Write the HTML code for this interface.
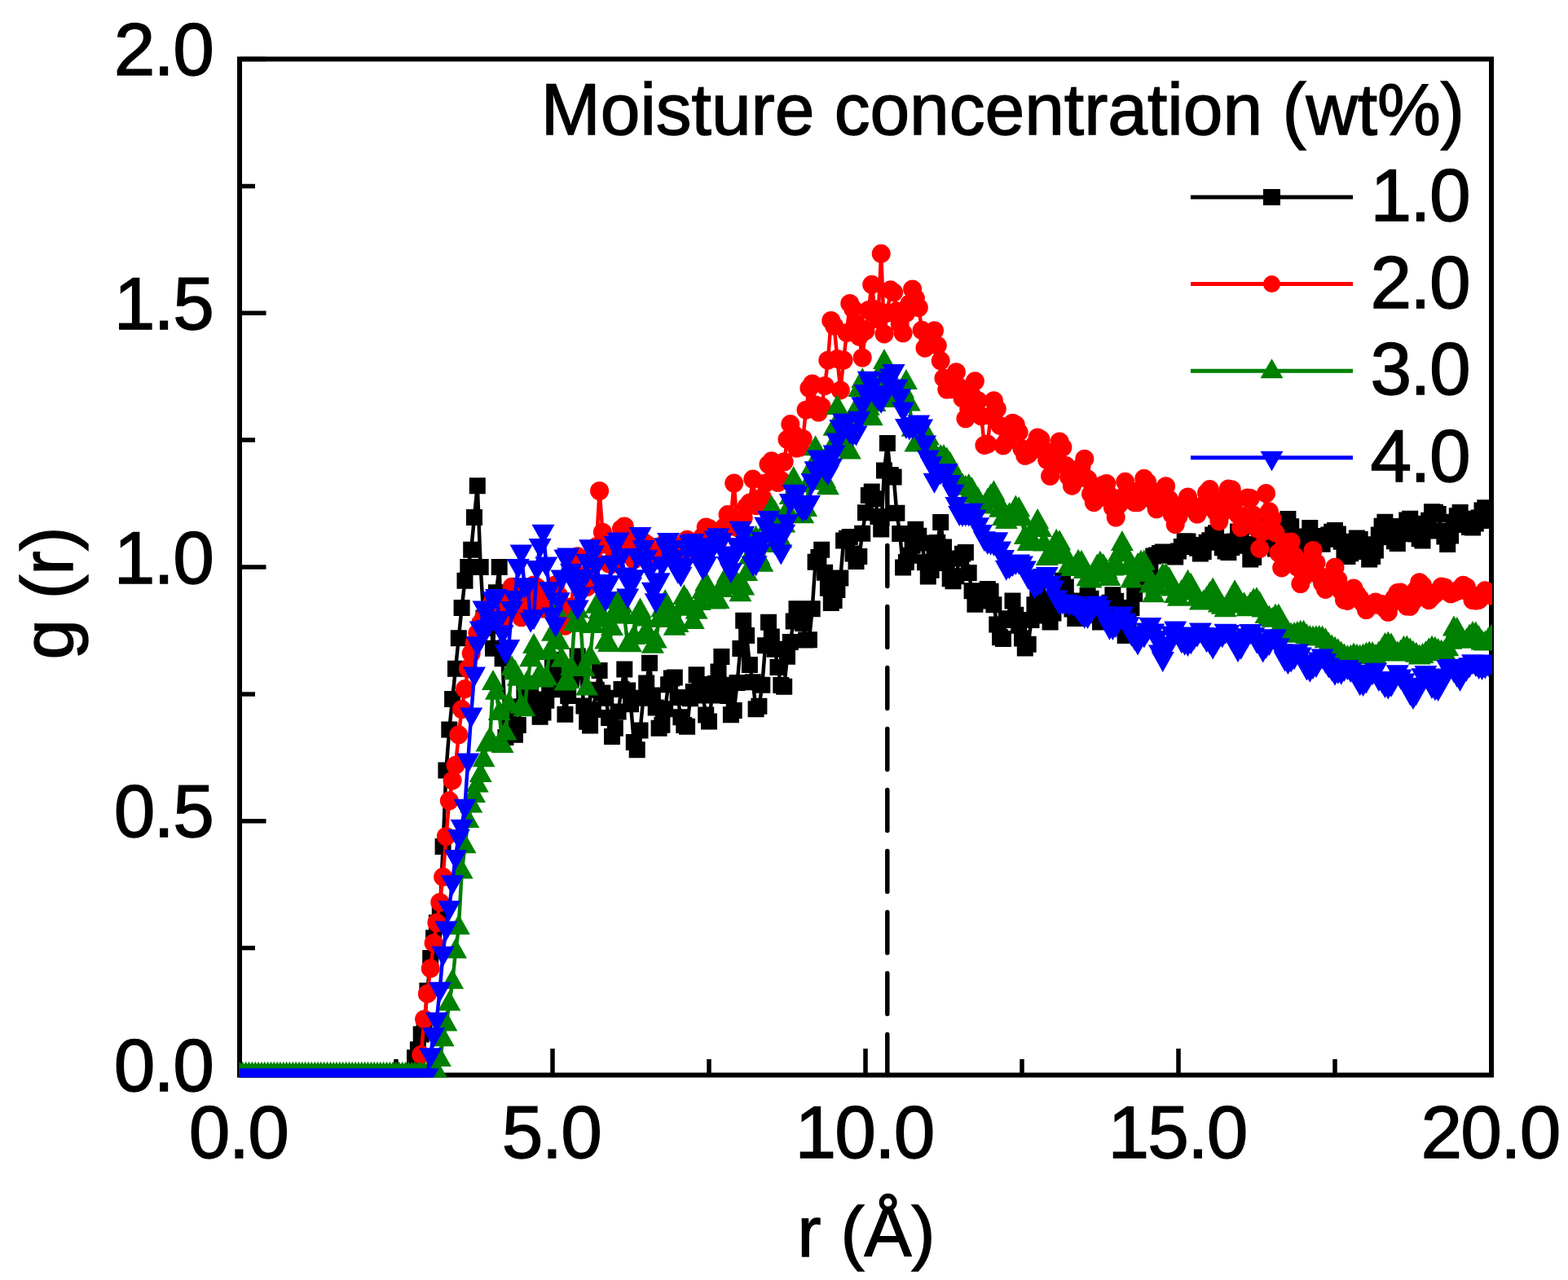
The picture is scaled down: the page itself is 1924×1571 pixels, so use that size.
<!DOCTYPE html>
<html><head><meta charset="utf-8"><title>g(r) plot</title>
<style>html,body{margin:0;padding:0;background:#fff;}svg{display:block;}</style></head>
<body><svg width="1924" height="1571" viewBox="0 0 1924 1571">
<rect width="1924" height="1571" fill="#fff"/>
<defs><clipPath id="c"><rect x="293.5" y="60" width="1537.5" height="1262.5"/></clipPath></defs>
<path d="M1088.8 1319.5V1269.5M1088.8 1244.5V1194.5M1088.8 1169.5V1119.5M1088.8 1094.5V1044.5M1088.8 1019.5V969.5M1088.8 944.5V894.5M1088.8 869.5V819.5M1088.8 794.5V744.5M1088.8 719.5V669.5M1088.8 644.5V594.5M1088.8 569.5V560" stroke="#000" stroke-width="5.5" fill="none" stroke-linecap="round"/>
<rect x="294" y="72.5" width="1536" height="1247" fill="none" stroke="#000" stroke-width="6"/>
<path d="M294 1319.5V1287M486 1319.5V1300M678 1319.5V1287M870 1319.5V1300M1062 1319.5V1287M1254 1319.5V1300M1446 1319.5V1287M1638 1319.5V1300M1830 1319.5V1287M294 1319.5H326.5M294 1163.6H313M294 1007.8H326.5M294 851.9H313M294 696H326.5M294 540.1H313M294 384.2H326.5M294 228.4H313M294 72.5H326.5" stroke="#000" stroke-width="5.5" fill="none"/>
<g clip-path="url(#c)">
<path d="M294,1319.5 297.8,1319.5 301.7,1319.5 305.5,1319.5 309.4,1319.5 313.2,1319.5 317,1319.5 320.9,1319.5 324.7,1319.5 328.6,1319.5 332.4,1319.5 336.2,1319.5 340.1,1319.5 343.9,1319.5 347.8,1319.5 351.6,1319.5 355.4,1319.5 359.3,1319.5 363.1,1319.5 367,1319.5 370.8,1319.5 374.6,1319.5 378.5,1319.5 382.3,1319.5 386.2,1319.5 390,1319.5 393.8,1319.5 397.7,1319.5 401.5,1319.5 405.4,1319.5 409.2,1319.5 413,1319.5 416.9,1319.5 420.7,1319.5 424.6,1319.5 428.4,1319.5 432.2,1319.5 436.1,1319.5 439.9,1319.5 443.8,1319.5 447.6,1319.5 451.4,1319.5 455.3,1319.5 459.1,1319.5 463,1319.5 466.8,1319.5 470.6,1319.5 474.5,1319.5 478.3,1319.5 482.2,1319.5 486,1319.5 489.8,1319.5 493.7,1319.5 497.5,1319.5 501.4,1319.5 505.2,1319.5 509,1298.3 512.9,1288.3 516.7,1269.6 520.6,1257.2 524.4,1216 528.2,1176.1 532.1,1151.2 535.9,1132.5 539.8,1120 543.6,1038.9 547.4,945.4 551.3,895.5 555.1,858.1 559,820.7 562.8,783.3 566.6,745.9 570.5,712.8 574.3,696 578.2,674.8 582,634.9 585.8,596.2 589.7,696 593.5,758.4 597.4,770.8 601.2,745.9 605,795.8 608.9,727.2 612.7,696 616.6,808.2 620.4,904.9 624.2,883 628.1,892.9 631.9,901.8 635.8,890.1 639.6,867.2 643.4,850.7 647.3,839 651.1,845.5 655,858.4 658.8,865.7 662.6,879.8 666.5,874.6 670.3,859.8 674.2,839.8 678,810 681.8,819.2 685.7,828.7 689.5,846.2 693.4,876.8 697.2,854.1 701,833.2 704.9,822.8 708.7,805.5 712.6,824.6 716.4,866.4 720.2,885.7 724.1,890.4 727.9,871 731.8,846.7 735.6,823 739.4,850.4 743.3,856.7 747.1,881.1 751,904.1 754.8,893.8 758.6,873.4 762.5,846 766.3,821.5 770.2,847.4 774,864.2 777.8,910.9 781.7,920.3 785.5,896.4 789.4,856.7 793.2,838.6 797,813.8 800.9,853.6 804.7,868.6 808.6,893.8 812.4,889.7 816.2,870.2 820.1,840.3 823.9,832.6 827.8,831.5 831.6,856 835.4,880.2 839.3,890.1 843.1,891.7 847,857.3 850.8,848.9 854.6,828.3 858.5,840 862.3,853.4 866.2,877.5 870,885.6 873.8,853.6 877.7,839.1 881.5,824.6 885.4,806 889.2,840.7 893,854 896.9,877.2 900.7,872 904.6,838.1 908.4,796.1 912.2,761.7 916.1,780 919.9,815.9 923.8,837.2 927.6,870.2 931.4,866.7 935.3,840.8 939.1,792.2 943,763.8 946.8,781.6 950.6,796.7 954.5,819.1 958.3,841 962.2,842.8 966,805.8 969.8,788 973.7,762.5 977.5,747.2 981.4,750.5 985.2,765.1 989,785.4 992.9,785.3 996.7,747.2 1000.6,689.7 1004.4,683.9 1008.2,674.8 1012.1,702.7 1015.9,721.7 1019.8,740 1023.6,736.9 1027.4,723.9 1031.3,709.6 1035.1,663.4 1039,660.8 1042.8,658.9 1046.6,679.6 1050.5,688.9 1054.3,682.9 1058.2,654.7 1062,629.2 1065.8,607.9 1069.7,603.4 1073.5,612.3 1077.4,634.1 1081.2,649.6 1085,577.5 1088.9,543.9 1092.7,583 1096.6,585.6 1100.4,629.7 1104.2,655.1 1108.1,696.5 1111.9,690 1115.8,681.8 1119.6,669.8 1123.4,649.7 1127.3,657.8 1131.1,666.4 1135,690.3 1138.8,707.5 1142.6,699.7 1146.5,681.6 1150.3,665.9 1154.2,641 1158,671.5 1161.8,691 1165.7,710.2 1169.5,713.2 1173.4,707.3 1177.2,685.4 1181,679.7 1184.9,678.1 1188.7,703 1192.6,725.2 1196.4,741.7 1200.2,737.5 1204.1,735.6 1207.9,734 1211.8,723 1215.6,725.8 1219.4,742.2 1223.3,766.5 1227.1,782.3 1231,784 1234.8,761.1 1238.6,759.2 1242.5,737.4 1246.3,754.8 1250.2,767.7 1254,783.6 1257.8,795.4 1261.7,790.7 1265.5,761.1 1269.4,742.3 1273.2,722.8 1277,735.7 1280.9,744.7 1284.7,755.4 1288.6,763.4 1292.4,752.4 1296.2,739.6 1300.1,727.9 1303.9,712.8 1307.8,720.5 1311.6,737.4 1315.4,747.5 1319.3,758.9 1323.1,750.5 1327,743.3 1330.8,737.5 1334.6,730.8 1338.5,734.7 1342.3,748.1 1346.2,755.1 1350,763.5 1353.8,757.4 1357.7,743.6 1361.5,739.8 1365.4,730.3 1369.2,737.7 1373,757.8 1376.9,766.4 1380.7,779.9 1384.6,761.7 1388.4,746.1 1392.2,728.7 1396.1,705.2 1399.9,708.2 1403.8,707.2 1407.6,702.2 1411.4,696.6 1415.3,682.4 1419.1,681.6 1423,678.9 1426.8,677.6 1430.6,677.6 1434.5,680.4 1438.3,681.8 1442.2,683.5 1446,676.4 1449.8,670.9 1453.7,664.2 1457.5,664.4 1461.4,668.9 1465.2,669.8 1469,672.7 1472.9,679.6 1476.7,677 1480.6,665.8 1484.4,663.2 1488.2,656.4 1492.1,654.2 1495.9,665 1499.8,672.3 1503.6,676.5 1507.4,678 1511.3,671.9 1515.1,664.6 1519,652.5 1522.8,653.8 1526.6,669.7 1530.5,669.5 1534.3,686.4 1538.2,683.9 1542,668.1 1545.8,651.4 1549.7,639.2 1553.5,646.9 1557.4,662.4 1561.2,667.9 1565,673.5 1568.9,669.4 1572.7,660.7 1576.6,648.3 1580.4,637.1 1584.2,646.3 1588.1,667.2 1591.9,674.3 1595.8,669.2 1599.6,662.8 1603.4,658.6 1607.3,648 1611.1,658.1 1615,662.3 1618.8,666.9 1622.6,667.7 1626.5,661.7 1630.3,656.5 1634.2,652.8 1638,650.9 1641.8,655.5 1645.7,664.8 1649.5,680.5 1653.4,683.1 1657.2,679.2 1661,669.9 1664.9,660.4 1668.7,662.1 1672.6,668.2 1676.4,677 1680.2,686.5 1684.1,683.1 1687.9,675.5 1691.8,656.6 1695.6,645.7 1699.4,640.8 1703.3,646.1 1707.1,659.2 1711,664.3 1714.8,667.1 1718.6,655.3 1722.5,646 1726.3,638.5 1730.2,636.7 1734,642.8 1737.8,655.6 1741.7,661.3 1745.5,663.6 1749.4,651.4 1753.2,638.7 1757,628.3 1760.9,628.8 1764.7,630.9 1768.6,651.6 1772.4,658.4 1776.2,667.9 1780.1,657.6 1783.9,640.7 1787.8,633.3 1791.6,629.1 1795.4,636.8 1799.3,643.9 1803.1,647 1807,647.4 1810.8,642.5 1814.6,635.4 1818.5,626.5 1822.3,623.2 1826.2,624.8 1830,639" fill="none" stroke="#000" stroke-width="4.5" stroke-linejoin="round"/>
<path d="M284 1309.5h20v20h-20zM287.8 1309.5h20v20h-20zM291.7 1309.5h20v20h-20zM295.5 1309.5h20v20h-20zM299.4 1309.5h20v20h-20zM303.2 1309.5h20v20h-20zM307 1309.5h20v20h-20zM310.9 1309.5h20v20h-20zM314.7 1309.5h20v20h-20zM318.6 1309.5h20v20h-20zM322.4 1309.5h20v20h-20zM326.2 1309.5h20v20h-20zM330.1 1309.5h20v20h-20zM333.9 1309.5h20v20h-20zM337.8 1309.5h20v20h-20zM341.6 1309.5h20v20h-20zM345.4 1309.5h20v20h-20zM349.3 1309.5h20v20h-20zM353.1 1309.5h20v20h-20zM357 1309.5h20v20h-20zM360.8 1309.5h20v20h-20zM364.6 1309.5h20v20h-20zM368.5 1309.5h20v20h-20zM372.3 1309.5h20v20h-20zM376.2 1309.5h20v20h-20zM380 1309.5h20v20h-20zM383.8 1309.5h20v20h-20zM387.7 1309.5h20v20h-20zM391.5 1309.5h20v20h-20zM395.4 1309.5h20v20h-20zM399.2 1309.5h20v20h-20zM403 1309.5h20v20h-20zM406.9 1309.5h20v20h-20zM410.7 1309.5h20v20h-20zM414.6 1309.5h20v20h-20zM418.4 1309.5h20v20h-20zM422.2 1309.5h20v20h-20zM426.1 1309.5h20v20h-20zM429.9 1309.5h20v20h-20zM433.8 1309.5h20v20h-20zM437.6 1309.5h20v20h-20zM441.4 1309.5h20v20h-20zM445.3 1309.5h20v20h-20zM449.1 1309.5h20v20h-20zM453 1309.5h20v20h-20zM456.8 1309.5h20v20h-20zM460.6 1309.5h20v20h-20zM464.5 1309.5h20v20h-20zM468.3 1309.5h20v20h-20zM472.2 1309.5h20v20h-20zM476 1309.5h20v20h-20zM479.8 1309.5h20v20h-20zM483.7 1309.5h20v20h-20zM487.5 1309.5h20v20h-20zM491.4 1309.5h20v20h-20zM495.2 1309.5h20v20h-20zM499 1288.3h20v20h-20zM502.9 1278.3h20v20h-20zM506.7 1259.6h20v20h-20zM510.6 1247.2h20v20h-20zM514.4 1206h20v20h-20zM518.2 1166.1h20v20h-20zM522.1 1141.2h20v20h-20zM525.9 1122.5h20v20h-20zM529.8 1110h20v20h-20zM533.6 1028.9h20v20h-20zM537.4 935.4h20v20h-20zM541.3 885.5h20v20h-20zM545.1 848.1h20v20h-20zM549 810.7h20v20h-20zM552.8 773.3h20v20h-20zM556.6 735.9h20v20h-20zM560.5 702.8h20v20h-20zM564.3 686h20v20h-20zM568.2 664.8h20v20h-20zM572 624.9h20v20h-20zM575.8 586.2h20v20h-20zM579.7 686h20v20h-20zM583.5 748.4h20v20h-20zM587.4 760.8h20v20h-20zM591.2 735.9h20v20h-20zM595 785.8h20v20h-20zM598.9 717.2h20v20h-20zM602.7 686h20v20h-20zM606.6 798.2h20v20h-20zM610.4 894.9h20v20h-20zM614.2 873h20v20h-20zM618.1 882.9h20v20h-20zM621.9 891.8h20v20h-20zM625.8 880.1h20v20h-20zM629.6 857.2h20v20h-20zM633.4 840.7h20v20h-20zM637.3 829h20v20h-20zM641.1 835.5h20v20h-20zM645 848.4h20v20h-20zM648.8 855.7h20v20h-20zM652.6 869.8h20v20h-20zM656.5 864.6h20v20h-20zM660.3 849.8h20v20h-20zM664.2 829.8h20v20h-20zM668 800h20v20h-20zM671.8 809.2h20v20h-20zM675.7 818.7h20v20h-20zM679.5 836.2h20v20h-20zM683.4 866.8h20v20h-20zM687.2 844.1h20v20h-20zM691 823.2h20v20h-20zM694.9 812.8h20v20h-20zM698.7 795.5h20v20h-20zM702.6 814.6h20v20h-20zM706.4 856.4h20v20h-20zM710.2 875.7h20v20h-20zM714.1 880.4h20v20h-20zM717.9 861h20v20h-20zM721.8 836.7h20v20h-20zM725.6 813h20v20h-20zM729.4 840.4h20v20h-20zM733.3 846.7h20v20h-20zM737.1 871.1h20v20h-20zM741 894.1h20v20h-20zM744.8 883.8h20v20h-20zM748.6 863.4h20v20h-20zM752.5 836h20v20h-20zM756.3 811.5h20v20h-20zM760.2 837.4h20v20h-20zM764 854.2h20v20h-20zM767.8 900.9h20v20h-20zM771.7 910.3h20v20h-20zM775.5 886.4h20v20h-20zM779.4 846.7h20v20h-20zM783.2 828.6h20v20h-20zM787 803.8h20v20h-20zM790.9 843.6h20v20h-20zM794.7 858.6h20v20h-20zM798.6 883.8h20v20h-20zM802.4 879.7h20v20h-20zM806.2 860.2h20v20h-20zM810.1 830.3h20v20h-20zM813.9 822.6h20v20h-20zM817.8 821.5h20v20h-20zM821.6 846h20v20h-20zM825.4 870.2h20v20h-20zM829.3 880.1h20v20h-20zM833.1 881.7h20v20h-20zM837 847.3h20v20h-20zM840.8 838.9h20v20h-20zM844.6 818.3h20v20h-20zM848.5 830h20v20h-20zM852.3 843.4h20v20h-20zM856.2 867.5h20v20h-20zM860 875.6h20v20h-20zM863.8 843.6h20v20h-20zM867.7 829.1h20v20h-20zM871.5 814.6h20v20h-20zM875.4 796h20v20h-20zM879.2 830.7h20v20h-20zM883 844h20v20h-20zM886.9 867.2h20v20h-20zM890.7 862h20v20h-20zM894.6 828.1h20v20h-20zM898.4 786.1h20v20h-20zM902.2 751.7h20v20h-20zM906.1 770h20v20h-20zM909.9 805.9h20v20h-20zM913.8 827.2h20v20h-20zM917.6 860.2h20v20h-20zM921.4 856.7h20v20h-20zM925.3 830.8h20v20h-20zM929.1 782.2h20v20h-20zM933 753.8h20v20h-20zM936.8 771.6h20v20h-20zM940.6 786.7h20v20h-20zM944.5 809.1h20v20h-20zM948.3 831h20v20h-20zM952.2 832.8h20v20h-20zM956 795.8h20v20h-20zM959.8 778h20v20h-20zM963.7 752.5h20v20h-20zM967.5 737.2h20v20h-20zM971.4 740.5h20v20h-20zM975.2 755.1h20v20h-20zM979 775.4h20v20h-20zM982.9 775.3h20v20h-20zM986.7 737.2h20v20h-20zM990.6 679.7h20v20h-20zM994.4 673.9h20v20h-20zM998.2 664.8h20v20h-20zM1002.1 692.7h20v20h-20zM1005.9 711.7h20v20h-20zM1009.8 730h20v20h-20zM1013.6 726.9h20v20h-20zM1017.4 713.9h20v20h-20zM1021.3 699.6h20v20h-20zM1025.1 653.4h20v20h-20zM1029 650.8h20v20h-20zM1032.8 648.9h20v20h-20zM1036.6 669.6h20v20h-20zM1040.5 678.9h20v20h-20zM1044.3 672.9h20v20h-20zM1048.2 644.7h20v20h-20zM1052 619.2h20v20h-20zM1055.8 597.9h20v20h-20zM1059.7 593.4h20v20h-20zM1063.5 602.3h20v20h-20zM1067.4 624.1h20v20h-20zM1071.2 639.6h20v20h-20zM1075 567.5h20v20h-20zM1078.9 533.9h20v20h-20zM1082.7 573h20v20h-20zM1086.6 575.6h20v20h-20zM1090.4 619.7h20v20h-20zM1094.2 645.1h20v20h-20zM1098.1 686.5h20v20h-20zM1101.9 680h20v20h-20zM1105.8 671.8h20v20h-20zM1109.6 659.8h20v20h-20zM1113.4 639.7h20v20h-20zM1117.3 647.8h20v20h-20zM1121.1 656.4h20v20h-20zM1125 680.3h20v20h-20zM1128.8 697.5h20v20h-20zM1132.6 689.7h20v20h-20zM1136.5 671.6h20v20h-20zM1140.3 655.9h20v20h-20zM1144.2 631h20v20h-20zM1148 661.5h20v20h-20zM1151.8 681h20v20h-20zM1155.7 700.2h20v20h-20zM1159.5 703.2h20v20h-20zM1163.4 697.3h20v20h-20zM1167.2 675.4h20v20h-20zM1171 669.7h20v20h-20zM1174.9 668.1h20v20h-20zM1178.7 693h20v20h-20zM1182.6 715.2h20v20h-20zM1186.4 731.7h20v20h-20zM1190.2 727.5h20v20h-20zM1194.1 725.6h20v20h-20zM1197.9 724h20v20h-20zM1201.8 713h20v20h-20zM1205.6 715.8h20v20h-20zM1209.4 732.2h20v20h-20zM1213.3 756.5h20v20h-20zM1217.1 772.3h20v20h-20zM1221 774h20v20h-20zM1224.8 751.1h20v20h-20zM1228.6 749.2h20v20h-20zM1232.5 727.4h20v20h-20zM1236.3 744.8h20v20h-20zM1240.2 757.7h20v20h-20zM1244 773.6h20v20h-20zM1247.8 785.4h20v20h-20zM1251.7 780.7h20v20h-20zM1255.5 751.1h20v20h-20zM1259.4 732.3h20v20h-20zM1263.2 712.8h20v20h-20zM1267 725.7h20v20h-20zM1270.9 734.7h20v20h-20zM1274.7 745.4h20v20h-20zM1278.6 753.4h20v20h-20zM1282.4 742.4h20v20h-20zM1286.2 729.6h20v20h-20zM1290.1 717.9h20v20h-20zM1293.9 702.8h20v20h-20zM1297.8 710.5h20v20h-20zM1301.6 727.4h20v20h-20zM1305.4 737.5h20v20h-20zM1309.3 748.9h20v20h-20zM1313.1 740.5h20v20h-20zM1317 733.3h20v20h-20zM1320.8 727.5h20v20h-20zM1324.6 720.8h20v20h-20zM1328.5 724.7h20v20h-20zM1332.3 738.1h20v20h-20zM1336.2 745.1h20v20h-20zM1340 753.5h20v20h-20zM1343.8 747.4h20v20h-20zM1347.7 733.6h20v20h-20zM1351.5 729.8h20v20h-20zM1355.4 720.3h20v20h-20zM1359.2 727.7h20v20h-20zM1363 747.8h20v20h-20zM1366.9 756.4h20v20h-20zM1370.7 769.9h20v20h-20zM1374.6 751.7h20v20h-20zM1378.4 736.1h20v20h-20zM1382.2 718.7h20v20h-20zM1386.1 695.2h20v20h-20zM1389.9 698.2h20v20h-20zM1393.8 697.2h20v20h-20zM1397.6 692.2h20v20h-20zM1401.4 686.6h20v20h-20zM1405.3 672.4h20v20h-20zM1409.1 671.6h20v20h-20zM1413 668.9h20v20h-20zM1416.8 667.6h20v20h-20zM1420.6 667.6h20v20h-20zM1424.5 670.4h20v20h-20zM1428.3 671.8h20v20h-20zM1432.2 673.5h20v20h-20zM1436 666.4h20v20h-20zM1439.8 660.9h20v20h-20zM1443.7 654.2h20v20h-20zM1447.5 654.4h20v20h-20zM1451.4 658.9h20v20h-20zM1455.2 659.8h20v20h-20zM1459 662.7h20v20h-20zM1462.9 669.6h20v20h-20zM1466.7 667h20v20h-20zM1470.6 655.8h20v20h-20zM1474.4 653.2h20v20h-20zM1478.2 646.4h20v20h-20zM1482.1 644.2h20v20h-20zM1485.9 655h20v20h-20zM1489.8 662.3h20v20h-20zM1493.6 666.5h20v20h-20zM1497.4 668h20v20h-20zM1501.3 661.9h20v20h-20zM1505.1 654.6h20v20h-20zM1509 642.5h20v20h-20zM1512.8 643.8h20v20h-20zM1516.6 659.7h20v20h-20zM1520.5 659.5h20v20h-20zM1524.3 676.4h20v20h-20zM1528.2 673.9h20v20h-20zM1532 658.1h20v20h-20zM1535.8 641.4h20v20h-20zM1539.7 629.2h20v20h-20zM1543.5 636.9h20v20h-20zM1547.4 652.4h20v20h-20zM1551.2 657.9h20v20h-20zM1555 663.5h20v20h-20zM1558.9 659.4h20v20h-20zM1562.7 650.7h20v20h-20zM1566.6 638.3h20v20h-20zM1570.4 627.1h20v20h-20zM1574.2 636.3h20v20h-20zM1578.1 657.2h20v20h-20zM1581.9 664.3h20v20h-20zM1585.8 659.2h20v20h-20zM1589.6 652.8h20v20h-20zM1593.4 648.6h20v20h-20zM1597.3 638h20v20h-20zM1601.1 648.1h20v20h-20zM1605 652.3h20v20h-20zM1608.8 656.9h20v20h-20zM1612.6 657.7h20v20h-20zM1616.5 651.7h20v20h-20zM1620.3 646.5h20v20h-20zM1624.2 642.8h20v20h-20zM1628 640.9h20v20h-20zM1631.8 645.5h20v20h-20zM1635.7 654.8h20v20h-20zM1639.5 670.5h20v20h-20zM1643.4 673.1h20v20h-20zM1647.2 669.2h20v20h-20zM1651 659.9h20v20h-20zM1654.9 650.4h20v20h-20zM1658.7 652.1h20v20h-20zM1662.6 658.2h20v20h-20zM1666.4 667h20v20h-20zM1670.2 676.5h20v20h-20zM1674.1 673.1h20v20h-20zM1677.9 665.5h20v20h-20zM1681.8 646.6h20v20h-20zM1685.6 635.7h20v20h-20zM1689.4 630.8h20v20h-20zM1693.3 636.1h20v20h-20zM1697.1 649.2h20v20h-20zM1701 654.3h20v20h-20zM1704.8 657.1h20v20h-20zM1708.6 645.3h20v20h-20zM1712.5 636h20v20h-20zM1716.3 628.5h20v20h-20zM1720.2 626.7h20v20h-20zM1724 632.8h20v20h-20zM1727.8 645.6h20v20h-20zM1731.7 651.3h20v20h-20zM1735.5 653.6h20v20h-20zM1739.4 641.4h20v20h-20zM1743.2 628.7h20v20h-20zM1747 618.3h20v20h-20zM1750.9 618.8h20v20h-20zM1754.7 620.9h20v20h-20zM1758.6 641.6h20v20h-20zM1762.4 648.4h20v20h-20zM1766.2 657.9h20v20h-20zM1770.1 647.6h20v20h-20zM1773.9 630.7h20v20h-20zM1777.8 623.3h20v20h-20zM1781.6 619.1h20v20h-20zM1785.4 626.8h20v20h-20zM1789.3 633.9h20v20h-20zM1793.1 637h20v20h-20zM1797 637.4h20v20h-20zM1800.8 632.5h20v20h-20zM1804.6 625.4h20v20h-20zM1808.5 616.5h20v20h-20zM1812.3 613.2h20v20h-20zM1816.2 614.8h20v20h-20zM1820 629h20v20h-20z" fill="#000"/>
<path d="M294,1319.5 297.8,1319.5 301.7,1319.5 305.5,1319.5 309.4,1319.5 313.2,1319.5 317,1319.5 320.9,1319.5 324.7,1319.5 328.6,1319.5 332.4,1319.5 336.2,1319.5 340.1,1319.5 343.9,1319.5 347.8,1319.5 351.6,1319.5 355.4,1319.5 359.3,1319.5 363.1,1319.5 367,1319.5 370.8,1319.5 374.6,1319.5 378.5,1319.5 382.3,1319.5 386.2,1319.5 390,1319.5 393.8,1319.5 397.7,1319.5 401.5,1319.5 405.4,1319.5 409.2,1319.5 413,1319.5 416.9,1319.5 420.7,1319.5 424.6,1319.5 428.4,1319.5 432.2,1319.5 436.1,1319.5 439.9,1319.5 443.8,1319.5 447.6,1319.5 451.4,1319.5 455.3,1319.5 459.1,1319.5 463,1319.5 466.8,1319.5 470.6,1319.5 474.5,1319.5 478.3,1319.5 482.2,1319.5 486,1319.5 489.8,1319.5 493.7,1319.5 497.5,1319.5 501.4,1319.5 505.2,1319.5 509,1319.5 512.9,1319.5 516.7,1294.6 520.6,1250.9 524.4,1219.7 528.2,1188.6 532.1,1157.4 535.9,1132.5 539.8,1107.5 543.6,1076.3 547.4,1026.5 551.3,982.8 555.1,957.9 559,939.2 562.8,901.8 566.6,870.6 570.5,845.6 574.3,820.7 578.2,802 582,789.5 585.8,777.1 589.7,764.6 593.5,758.4 597.4,755.6 601.2,744.7 605,736.4 608.9,740.4 612.7,752.9 616.6,758.9 620.4,743.8 624.2,735 628.1,720.3 631.9,727.8 635.8,739.9 639.6,757.8 643.4,745.8 647.3,738.5 651.1,727.4 655,718 658.8,720.7 662.6,735.9 666.5,747 670.3,745.4 674.2,731.8 678,727.4 681.8,717.8 685.7,731.1 689.5,748.2 693.4,768.2 697.2,759.3 701,744.7 704.9,705.1 708.7,682.8 712.6,706.2 716.4,719.4 720.2,720.7 724.1,710.7 727.9,684.8 731.8,670.8 735.6,602.5 739.4,653.2 743.3,668.1 747.1,691.9 751,692.4 754.8,677.4 758.6,662.2 762.5,648.9 766.3,645.9 770.2,662.1 774,682.3 777.8,686.8 781.7,681.3 785.5,674.9 789.4,665 793.2,667.7 797,674.5 800.9,683.1 804.7,687.3 808.6,677.2 812.4,673.7 816.2,666.1 820.1,673.1 823.9,678.4 827.8,684.4 831.6,680.3 835.4,671.4 839.3,667.5 843.1,662.2 847,668.4 850.8,672.5 854.6,676 858.5,669.6 862.3,658.5 866.2,647.1 870,648.4 873.8,655.4 877.7,661.5 881.5,663.7 885.4,656.2 889.2,646.4 893,631.6 896.9,634.6 900.7,593.1 904.6,647.5 908.4,648.2 912.2,636 916.1,621.7 919.9,617.1 923.8,588.1 927.6,620.6 931.4,618.3 935.3,610.2 939.1,593 943,570 946.8,565.8 950.6,575.7 954.5,592.3 958.3,589.4 962.2,566.8 966,539.3 969.8,520.6 973.7,532.7 977.5,550.1 981.4,549.1 985.2,538.5 989,503.2 992.9,476.4 996.7,470.9 1000.6,496.9 1004.4,506 1008.2,499.1 1012.1,473.5 1015.9,442.2 1019.8,393.4 1023.6,400 1027.4,440.4 1031.3,478.9 1035.1,442.1 1039,408.4 1042.8,372.4 1046.6,379 1050.5,396.9 1054.3,413.1 1058.2,439 1062,406 1065.8,380.5 1069.7,349.3 1073.5,379.8 1077.4,391.9 1081.2,311.3 1085,409.9 1088.9,384 1092.7,355.8 1096.6,358.8 1100.4,381.7 1104.2,397.7 1108.1,408.8 1111.9,384 1115.8,372.8 1119.6,355 1123.4,366.1 1127.3,377.5 1131.1,405.3 1135,427.2 1138.8,417.6 1142.6,412.1 1146.5,405.7 1150.3,424.1 1154.2,442.8 1158,464.2 1161.8,478.1 1165.7,477.8 1169.5,463.8 1173.4,456.7 1177.2,475.3 1181,488.9 1184.9,513.8 1188.7,502.3 1192.6,485.5 1196.4,467.8 1200.2,491.8 1204.1,510.9 1207.9,546.4 1211.8,545.1 1215.6,510.3 1219.4,491.7 1223.3,501.8 1227.1,522.4 1231,546.8 1234.8,541.8 1238.6,533.6 1242.5,519.2 1246.3,521.3 1250.2,530.6 1254,550.9 1257.8,559.3 1261.7,557.6 1265.5,553.7 1269.4,545.8 1273.2,537 1277,539.3 1280.9,552.4 1284.7,564.6 1288.6,584.3 1292.4,573 1296.2,558.4 1300.1,541.9 1303.9,549 1307.8,571.4 1311.6,585.3 1315.4,596.2 1319.3,589.7 1323.1,579.6 1327,573 1330.8,563.2 1334.6,587.9 1338.5,606.3 1342.3,616.6 1346.2,612.7 1350,607.6 1353.8,594.9 1357.7,593.4 1361.5,608.2 1365.4,622.9 1369.2,635 1373,619.2 1376.9,610.4 1380.7,591.3 1384.6,603.3 1388.4,608.8 1392.2,616.7 1396.1,616.7 1399.9,600.6 1403.8,587.3 1407.6,591.7 1411.4,604.3 1415.3,614.8 1419.1,624.8 1423,613.4 1426.8,601.2 1430.6,596.7 1434.5,612.8 1438.3,631.7 1442.2,643.7 1446,634.1 1449.8,626.1 1453.7,618 1457.5,609.9 1461.4,620 1465.2,623.2 1469,631.1 1472.9,624.7 1476.7,619.7 1480.6,604.8 1484.4,600.6 1488.2,615.8 1492.1,628.8 1495.9,639.8 1499.8,628.9 1503.6,610.1 1507.4,600 1511.3,600.7 1515.1,613.5 1519,631.5 1522.8,647.5 1526.6,636.2 1530.5,611 1534.3,611.5 1538.2,632.3 1542,648.6 1545.8,673.4 1549.7,652.6 1553.5,605.6 1557.4,627.8 1561.2,636.9 1565,653.8 1568.9,678.5 1572.7,696.9 1576.6,674 1580.4,665.4 1584.2,664.9 1588.1,682.1 1591.9,696.1 1595.8,716.6 1599.6,708.2 1603.4,691.8 1607.3,688.4 1611.1,675.5 1615,690.7 1618.8,706.6 1622.6,715.9 1626.5,723.4 1630.3,719.5 1634.2,705.6 1638,696.2 1641.8,711.4 1645.7,725.3 1649.5,736.3 1653.4,737.4 1657.2,729.8 1661,722.1 1664.9,729.2 1668.7,734.5 1672.6,740.5 1676.4,748.5 1680.2,743.8 1684.1,742.5 1687.9,739 1691.8,742.4 1695.6,741.4 1699.4,746.8 1703.3,751.3 1707.1,740.9 1711,733.9 1714.8,727.6 1718.6,727.1 1722.5,736.4 1726.3,744.1 1730.2,744.3 1734,738 1737.8,723.6 1741.7,714.7 1745.5,718.3 1749.4,725.4 1753.2,736.7 1757,732.6 1760.9,729.1 1764.7,725.3 1768.6,720.1 1772.4,720.7 1776.2,726.1 1780.1,728.8 1783.9,727.3 1787.8,725.5 1791.6,722.3 1795.4,718.2 1799.3,720.5 1803.1,727.8 1807,736.5 1810.8,737 1814.6,736.4 1818.5,729.5 1822.3,724.8 1826.2,728.3 1830,731.1" fill="none" stroke="#f00" stroke-width="4.5" stroke-linejoin="round"/>
<path d="M282.5 1319.5a11.5 11.5 0 1 0 23 0a11.5 11.5 0 1 0 -23 0zM286.3 1319.5a11.5 11.5 0 1 0 23 0a11.5 11.5 0 1 0 -23 0zM290.2 1319.5a11.5 11.5 0 1 0 23 0a11.5 11.5 0 1 0 -23 0zM294 1319.5a11.5 11.5 0 1 0 23 0a11.5 11.5 0 1 0 -23 0zM297.9 1319.5a11.5 11.5 0 1 0 23 0a11.5 11.5 0 1 0 -23 0zM301.7 1319.5a11.5 11.5 0 1 0 23 0a11.5 11.5 0 1 0 -23 0zM305.5 1319.5a11.5 11.5 0 1 0 23 0a11.5 11.5 0 1 0 -23 0zM309.4 1319.5a11.5 11.5 0 1 0 23 0a11.5 11.5 0 1 0 -23 0zM313.2 1319.5a11.5 11.5 0 1 0 23 0a11.5 11.5 0 1 0 -23 0zM317.1 1319.5a11.5 11.5 0 1 0 23 0a11.5 11.5 0 1 0 -23 0zM320.9 1319.5a11.5 11.5 0 1 0 23 0a11.5 11.5 0 1 0 -23 0zM324.7 1319.5a11.5 11.5 0 1 0 23 0a11.5 11.5 0 1 0 -23 0zM328.6 1319.5a11.5 11.5 0 1 0 23 0a11.5 11.5 0 1 0 -23 0zM332.4 1319.5a11.5 11.5 0 1 0 23 0a11.5 11.5 0 1 0 -23 0zM336.3 1319.5a11.5 11.5 0 1 0 23 0a11.5 11.5 0 1 0 -23 0zM340.1 1319.5a11.5 11.5 0 1 0 23 0a11.5 11.5 0 1 0 -23 0zM343.9 1319.5a11.5 11.5 0 1 0 23 0a11.5 11.5 0 1 0 -23 0zM347.8 1319.5a11.5 11.5 0 1 0 23 0a11.5 11.5 0 1 0 -23 0zM351.6 1319.5a11.5 11.5 0 1 0 23 0a11.5 11.5 0 1 0 -23 0zM355.5 1319.5a11.5 11.5 0 1 0 23 0a11.5 11.5 0 1 0 -23 0zM359.3 1319.5a11.5 11.5 0 1 0 23 0a11.5 11.5 0 1 0 -23 0zM363.1 1319.5a11.5 11.5 0 1 0 23 0a11.5 11.5 0 1 0 -23 0zM367 1319.5a11.5 11.5 0 1 0 23 0a11.5 11.5 0 1 0 -23 0zM370.8 1319.5a11.5 11.5 0 1 0 23 0a11.5 11.5 0 1 0 -23 0zM374.7 1319.5a11.5 11.5 0 1 0 23 0a11.5 11.5 0 1 0 -23 0zM378.5 1319.5a11.5 11.5 0 1 0 23 0a11.5 11.5 0 1 0 -23 0zM382.3 1319.5a11.5 11.5 0 1 0 23 0a11.5 11.5 0 1 0 -23 0zM386.2 1319.5a11.5 11.5 0 1 0 23 0a11.5 11.5 0 1 0 -23 0zM390 1319.5a11.5 11.5 0 1 0 23 0a11.5 11.5 0 1 0 -23 0zM393.9 1319.5a11.5 11.5 0 1 0 23 0a11.5 11.5 0 1 0 -23 0zM397.7 1319.5a11.5 11.5 0 1 0 23 0a11.5 11.5 0 1 0 -23 0zM401.5 1319.5a11.5 11.5 0 1 0 23 0a11.5 11.5 0 1 0 -23 0zM405.4 1319.5a11.5 11.5 0 1 0 23 0a11.5 11.5 0 1 0 -23 0zM409.2 1319.5a11.5 11.5 0 1 0 23 0a11.5 11.5 0 1 0 -23 0zM413.1 1319.5a11.5 11.5 0 1 0 23 0a11.5 11.5 0 1 0 -23 0zM416.9 1319.5a11.5 11.5 0 1 0 23 0a11.5 11.5 0 1 0 -23 0zM420.7 1319.5a11.5 11.5 0 1 0 23 0a11.5 11.5 0 1 0 -23 0zM424.6 1319.5a11.5 11.5 0 1 0 23 0a11.5 11.5 0 1 0 -23 0zM428.4 1319.5a11.5 11.5 0 1 0 23 0a11.5 11.5 0 1 0 -23 0zM432.3 1319.5a11.5 11.5 0 1 0 23 0a11.5 11.5 0 1 0 -23 0zM436.1 1319.5a11.5 11.5 0 1 0 23 0a11.5 11.5 0 1 0 -23 0zM439.9 1319.5a11.5 11.5 0 1 0 23 0a11.5 11.5 0 1 0 -23 0zM443.8 1319.5a11.5 11.5 0 1 0 23 0a11.5 11.5 0 1 0 -23 0zM447.6 1319.5a11.5 11.5 0 1 0 23 0a11.5 11.5 0 1 0 -23 0zM451.5 1319.5a11.5 11.5 0 1 0 23 0a11.5 11.5 0 1 0 -23 0zM455.3 1319.5a11.5 11.5 0 1 0 23 0a11.5 11.5 0 1 0 -23 0zM459.1 1319.5a11.5 11.5 0 1 0 23 0a11.5 11.5 0 1 0 -23 0zM463 1319.5a11.5 11.5 0 1 0 23 0a11.5 11.5 0 1 0 -23 0zM466.8 1319.5a11.5 11.5 0 1 0 23 0a11.5 11.5 0 1 0 -23 0zM470.7 1319.5a11.5 11.5 0 1 0 23 0a11.5 11.5 0 1 0 -23 0zM474.5 1319.5a11.5 11.5 0 1 0 23 0a11.5 11.5 0 1 0 -23 0zM478.3 1319.5a11.5 11.5 0 1 0 23 0a11.5 11.5 0 1 0 -23 0zM482.2 1319.5a11.5 11.5 0 1 0 23 0a11.5 11.5 0 1 0 -23 0zM486 1319.5a11.5 11.5 0 1 0 23 0a11.5 11.5 0 1 0 -23 0zM489.9 1319.5a11.5 11.5 0 1 0 23 0a11.5 11.5 0 1 0 -23 0zM493.7 1319.5a11.5 11.5 0 1 0 23 0a11.5 11.5 0 1 0 -23 0zM497.5 1319.5a11.5 11.5 0 1 0 23 0a11.5 11.5 0 1 0 -23 0zM501.4 1319.5a11.5 11.5 0 1 0 23 0a11.5 11.5 0 1 0 -23 0zM505.2 1294.6a11.5 11.5 0 1 0 23 0a11.5 11.5 0 1 0 -23 0zM509.1 1250.9a11.5 11.5 0 1 0 23 0a11.5 11.5 0 1 0 -23 0zM512.9 1219.7a11.5 11.5 0 1 0 23 0a11.5 11.5 0 1 0 -23 0zM516.7 1188.6a11.5 11.5 0 1 0 23 0a11.5 11.5 0 1 0 -23 0zM520.6 1157.4a11.5 11.5 0 1 0 23 0a11.5 11.5 0 1 0 -23 0zM524.4 1132.5a11.5 11.5 0 1 0 23 0a11.5 11.5 0 1 0 -23 0zM528.3 1107.5a11.5 11.5 0 1 0 23 0a11.5 11.5 0 1 0 -23 0zM532.1 1076.3a11.5 11.5 0 1 0 23 0a11.5 11.5 0 1 0 -23 0zM535.9 1026.5a11.5 11.5 0 1 0 23 0a11.5 11.5 0 1 0 -23 0zM539.8 982.8a11.5 11.5 0 1 0 23 0a11.5 11.5 0 1 0 -23 0zM543.6 957.9a11.5 11.5 0 1 0 23 0a11.5 11.5 0 1 0 -23 0zM547.5 939.2a11.5 11.5 0 1 0 23 0a11.5 11.5 0 1 0 -23 0zM551.3 901.8a11.5 11.5 0 1 0 23 0a11.5 11.5 0 1 0 -23 0zM555.1 870.6a11.5 11.5 0 1 0 23 0a11.5 11.5 0 1 0 -23 0zM559 845.6a11.5 11.5 0 1 0 23 0a11.5 11.5 0 1 0 -23 0zM562.8 820.7a11.5 11.5 0 1 0 23 0a11.5 11.5 0 1 0 -23 0zM566.7 802a11.5 11.5 0 1 0 23 0a11.5 11.5 0 1 0 -23 0zM570.5 789.5a11.5 11.5 0 1 0 23 0a11.5 11.5 0 1 0 -23 0zM574.3 777.1a11.5 11.5 0 1 0 23 0a11.5 11.5 0 1 0 -23 0zM578.2 764.6a11.5 11.5 0 1 0 23 0a11.5 11.5 0 1 0 -23 0zM582 758.4a11.5 11.5 0 1 0 23 0a11.5 11.5 0 1 0 -23 0zM585.9 755.6a11.5 11.5 0 1 0 23 0a11.5 11.5 0 1 0 -23 0zM589.7 744.7a11.5 11.5 0 1 0 23 0a11.5 11.5 0 1 0 -23 0zM593.5 736.4a11.5 11.5 0 1 0 23 0a11.5 11.5 0 1 0 -23 0zM597.4 740.4a11.5 11.5 0 1 0 23 0a11.5 11.5 0 1 0 -23 0zM601.2 752.9a11.5 11.5 0 1 0 23 0a11.5 11.5 0 1 0 -23 0zM605.1 758.9a11.5 11.5 0 1 0 23 0a11.5 11.5 0 1 0 -23 0zM608.9 743.8a11.5 11.5 0 1 0 23 0a11.5 11.5 0 1 0 -23 0zM612.7 735a11.5 11.5 0 1 0 23 0a11.5 11.5 0 1 0 -23 0zM616.6 720.3a11.5 11.5 0 1 0 23 0a11.5 11.5 0 1 0 -23 0zM620.4 727.8a11.5 11.5 0 1 0 23 0a11.5 11.5 0 1 0 -23 0zM624.3 739.9a11.5 11.5 0 1 0 23 0a11.5 11.5 0 1 0 -23 0zM628.1 757.8a11.5 11.5 0 1 0 23 0a11.5 11.5 0 1 0 -23 0zM631.9 745.8a11.5 11.5 0 1 0 23 0a11.5 11.5 0 1 0 -23 0zM635.8 738.5a11.5 11.5 0 1 0 23 0a11.5 11.5 0 1 0 -23 0zM639.6 727.4a11.5 11.5 0 1 0 23 0a11.5 11.5 0 1 0 -23 0zM643.5 718a11.5 11.5 0 1 0 23 0a11.5 11.5 0 1 0 -23 0zM647.3 720.7a11.5 11.5 0 1 0 23 0a11.5 11.5 0 1 0 -23 0zM651.1 735.9a11.5 11.5 0 1 0 23 0a11.5 11.5 0 1 0 -23 0zM655 747a11.5 11.5 0 1 0 23 0a11.5 11.5 0 1 0 -23 0zM658.8 745.4a11.5 11.5 0 1 0 23 0a11.5 11.5 0 1 0 -23 0zM662.7 731.8a11.5 11.5 0 1 0 23 0a11.5 11.5 0 1 0 -23 0zM666.5 727.4a11.5 11.5 0 1 0 23 0a11.5 11.5 0 1 0 -23 0zM670.3 717.8a11.5 11.5 0 1 0 23 0a11.5 11.5 0 1 0 -23 0zM674.2 731.1a11.5 11.5 0 1 0 23 0a11.5 11.5 0 1 0 -23 0zM678 748.2a11.5 11.5 0 1 0 23 0a11.5 11.5 0 1 0 -23 0zM681.9 768.2a11.5 11.5 0 1 0 23 0a11.5 11.5 0 1 0 -23 0zM685.7 759.3a11.5 11.5 0 1 0 23 0a11.5 11.5 0 1 0 -23 0zM689.5 744.7a11.5 11.5 0 1 0 23 0a11.5 11.5 0 1 0 -23 0zM693.4 705.1a11.5 11.5 0 1 0 23 0a11.5 11.5 0 1 0 -23 0zM697.2 682.8a11.5 11.5 0 1 0 23 0a11.5 11.5 0 1 0 -23 0zM701.1 706.2a11.5 11.5 0 1 0 23 0a11.5 11.5 0 1 0 -23 0zM704.9 719.4a11.5 11.5 0 1 0 23 0a11.5 11.5 0 1 0 -23 0zM708.7 720.7a11.5 11.5 0 1 0 23 0a11.5 11.5 0 1 0 -23 0zM712.6 710.7a11.5 11.5 0 1 0 23 0a11.5 11.5 0 1 0 -23 0zM716.4 684.8a11.5 11.5 0 1 0 23 0a11.5 11.5 0 1 0 -23 0zM720.3 670.8a11.5 11.5 0 1 0 23 0a11.5 11.5 0 1 0 -23 0zM724.1 602.5a11.5 11.5 0 1 0 23 0a11.5 11.5 0 1 0 -23 0zM727.9 653.2a11.5 11.5 0 1 0 23 0a11.5 11.5 0 1 0 -23 0zM731.8 668.1a11.5 11.5 0 1 0 23 0a11.5 11.5 0 1 0 -23 0zM735.6 691.9a11.5 11.5 0 1 0 23 0a11.5 11.5 0 1 0 -23 0zM739.5 692.4a11.5 11.5 0 1 0 23 0a11.5 11.5 0 1 0 -23 0zM743.3 677.4a11.5 11.5 0 1 0 23 0a11.5 11.5 0 1 0 -23 0zM747.1 662.2a11.5 11.5 0 1 0 23 0a11.5 11.5 0 1 0 -23 0zM751 648.9a11.5 11.5 0 1 0 23 0a11.5 11.5 0 1 0 -23 0zM754.8 645.9a11.5 11.5 0 1 0 23 0a11.5 11.5 0 1 0 -23 0zM758.7 662.1a11.5 11.5 0 1 0 23 0a11.5 11.5 0 1 0 -23 0zM762.5 682.3a11.5 11.5 0 1 0 23 0a11.5 11.5 0 1 0 -23 0zM766.3 686.8a11.5 11.5 0 1 0 23 0a11.5 11.5 0 1 0 -23 0zM770.2 681.3a11.5 11.5 0 1 0 23 0a11.5 11.5 0 1 0 -23 0zM774 674.9a11.5 11.5 0 1 0 23 0a11.5 11.5 0 1 0 -23 0zM777.9 665a11.5 11.5 0 1 0 23 0a11.5 11.5 0 1 0 -23 0zM781.7 667.7a11.5 11.5 0 1 0 23 0a11.5 11.5 0 1 0 -23 0zM785.5 674.5a11.5 11.5 0 1 0 23 0a11.5 11.5 0 1 0 -23 0zM789.4 683.1a11.5 11.5 0 1 0 23 0a11.5 11.5 0 1 0 -23 0zM793.2 687.3a11.5 11.5 0 1 0 23 0a11.5 11.5 0 1 0 -23 0zM797.1 677.2a11.5 11.5 0 1 0 23 0a11.5 11.5 0 1 0 -23 0zM800.9 673.7a11.5 11.5 0 1 0 23 0a11.5 11.5 0 1 0 -23 0zM804.7 666.1a11.5 11.5 0 1 0 23 0a11.5 11.5 0 1 0 -23 0zM808.6 673.1a11.5 11.5 0 1 0 23 0a11.5 11.5 0 1 0 -23 0zM812.4 678.4a11.5 11.5 0 1 0 23 0a11.5 11.5 0 1 0 -23 0zM816.3 684.4a11.5 11.5 0 1 0 23 0a11.5 11.5 0 1 0 -23 0zM820.1 680.3a11.5 11.5 0 1 0 23 0a11.5 11.5 0 1 0 -23 0zM823.9 671.4a11.5 11.5 0 1 0 23 0a11.5 11.5 0 1 0 -23 0zM827.8 667.5a11.5 11.5 0 1 0 23 0a11.5 11.5 0 1 0 -23 0zM831.6 662.2a11.5 11.5 0 1 0 23 0a11.5 11.5 0 1 0 -23 0zM835.5 668.4a11.5 11.5 0 1 0 23 0a11.5 11.5 0 1 0 -23 0zM839.3 672.5a11.5 11.5 0 1 0 23 0a11.5 11.5 0 1 0 -23 0zM843.1 676a11.5 11.5 0 1 0 23 0a11.5 11.5 0 1 0 -23 0zM847 669.6a11.5 11.5 0 1 0 23 0a11.5 11.5 0 1 0 -23 0zM850.8 658.5a11.5 11.5 0 1 0 23 0a11.5 11.5 0 1 0 -23 0zM854.7 647.1a11.5 11.5 0 1 0 23 0a11.5 11.5 0 1 0 -23 0zM858.5 648.4a11.5 11.5 0 1 0 23 0a11.5 11.5 0 1 0 -23 0zM862.3 655.4a11.5 11.5 0 1 0 23 0a11.5 11.5 0 1 0 -23 0zM866.2 661.5a11.5 11.5 0 1 0 23 0a11.5 11.5 0 1 0 -23 0zM870 663.7a11.5 11.5 0 1 0 23 0a11.5 11.5 0 1 0 -23 0zM873.9 656.2a11.5 11.5 0 1 0 23 0a11.5 11.5 0 1 0 -23 0zM877.7 646.4a11.5 11.5 0 1 0 23 0a11.5 11.5 0 1 0 -23 0zM881.5 631.6a11.5 11.5 0 1 0 23 0a11.5 11.5 0 1 0 -23 0zM885.4 634.6a11.5 11.5 0 1 0 23 0a11.5 11.5 0 1 0 -23 0zM889.2 593.1a11.5 11.5 0 1 0 23 0a11.5 11.5 0 1 0 -23 0zM893.1 647.5a11.5 11.5 0 1 0 23 0a11.5 11.5 0 1 0 -23 0zM896.9 648.2a11.5 11.5 0 1 0 23 0a11.5 11.5 0 1 0 -23 0zM900.7 636a11.5 11.5 0 1 0 23 0a11.5 11.5 0 1 0 -23 0zM904.6 621.7a11.5 11.5 0 1 0 23 0a11.5 11.5 0 1 0 -23 0zM908.4 617.1a11.5 11.5 0 1 0 23 0a11.5 11.5 0 1 0 -23 0zM912.3 588.1a11.5 11.5 0 1 0 23 0a11.5 11.5 0 1 0 -23 0zM916.1 620.6a11.5 11.5 0 1 0 23 0a11.5 11.5 0 1 0 -23 0zM919.9 618.3a11.5 11.5 0 1 0 23 0a11.5 11.5 0 1 0 -23 0zM923.8 610.2a11.5 11.5 0 1 0 23 0a11.5 11.5 0 1 0 -23 0zM927.6 593a11.5 11.5 0 1 0 23 0a11.5 11.5 0 1 0 -23 0zM931.5 570a11.5 11.5 0 1 0 23 0a11.5 11.5 0 1 0 -23 0zM935.3 565.8a11.5 11.5 0 1 0 23 0a11.5 11.5 0 1 0 -23 0zM939.1 575.7a11.5 11.5 0 1 0 23 0a11.5 11.5 0 1 0 -23 0zM943 592.3a11.5 11.5 0 1 0 23 0a11.5 11.5 0 1 0 -23 0zM946.8 589.4a11.5 11.5 0 1 0 23 0a11.5 11.5 0 1 0 -23 0zM950.7 566.8a11.5 11.5 0 1 0 23 0a11.5 11.5 0 1 0 -23 0zM954.5 539.3a11.5 11.5 0 1 0 23 0a11.5 11.5 0 1 0 -23 0zM958.3 520.6a11.5 11.5 0 1 0 23 0a11.5 11.5 0 1 0 -23 0zM962.2 532.7a11.5 11.5 0 1 0 23 0a11.5 11.5 0 1 0 -23 0zM966 550.1a11.5 11.5 0 1 0 23 0a11.5 11.5 0 1 0 -23 0zM969.9 549.1a11.5 11.5 0 1 0 23 0a11.5 11.5 0 1 0 -23 0zM973.7 538.5a11.5 11.5 0 1 0 23 0a11.5 11.5 0 1 0 -23 0zM977.5 503.2a11.5 11.5 0 1 0 23 0a11.5 11.5 0 1 0 -23 0zM981.4 476.4a11.5 11.5 0 1 0 23 0a11.5 11.5 0 1 0 -23 0zM985.2 470.9a11.5 11.5 0 1 0 23 0a11.5 11.5 0 1 0 -23 0zM989.1 496.9a11.5 11.5 0 1 0 23 0a11.5 11.5 0 1 0 -23 0zM992.9 506a11.5 11.5 0 1 0 23 0a11.5 11.5 0 1 0 -23 0zM996.7 499.1a11.5 11.5 0 1 0 23 0a11.5 11.5 0 1 0 -23 0zM1000.6 473.5a11.5 11.5 0 1 0 23 0a11.5 11.5 0 1 0 -23 0zM1004.4 442.2a11.5 11.5 0 1 0 23 0a11.5 11.5 0 1 0 -23 0zM1008.3 393.4a11.5 11.5 0 1 0 23 0a11.5 11.5 0 1 0 -23 0zM1012.1 400a11.5 11.5 0 1 0 23 0a11.5 11.5 0 1 0 -23 0zM1015.9 440.4a11.5 11.5 0 1 0 23 0a11.5 11.5 0 1 0 -23 0zM1019.8 478.9a11.5 11.5 0 1 0 23 0a11.5 11.5 0 1 0 -23 0zM1023.6 442.1a11.5 11.5 0 1 0 23 0a11.5 11.5 0 1 0 -23 0zM1027.5 408.4a11.5 11.5 0 1 0 23 0a11.5 11.5 0 1 0 -23 0zM1031.3 372.4a11.5 11.5 0 1 0 23 0a11.5 11.5 0 1 0 -23 0zM1035.1 379a11.5 11.5 0 1 0 23 0a11.5 11.5 0 1 0 -23 0zM1039 396.9a11.5 11.5 0 1 0 23 0a11.5 11.5 0 1 0 -23 0zM1042.8 413.1a11.5 11.5 0 1 0 23 0a11.5 11.5 0 1 0 -23 0zM1046.7 439a11.5 11.5 0 1 0 23 0a11.5 11.5 0 1 0 -23 0zM1050.5 406a11.5 11.5 0 1 0 23 0a11.5 11.5 0 1 0 -23 0zM1054.3 380.5a11.5 11.5 0 1 0 23 0a11.5 11.5 0 1 0 -23 0zM1058.2 349.3a11.5 11.5 0 1 0 23 0a11.5 11.5 0 1 0 -23 0zM1062 379.8a11.5 11.5 0 1 0 23 0a11.5 11.5 0 1 0 -23 0zM1065.9 391.9a11.5 11.5 0 1 0 23 0a11.5 11.5 0 1 0 -23 0zM1069.7 311.3a11.5 11.5 0 1 0 23 0a11.5 11.5 0 1 0 -23 0zM1073.5 409.9a11.5 11.5 0 1 0 23 0a11.5 11.5 0 1 0 -23 0zM1077.4 384a11.5 11.5 0 1 0 23 0a11.5 11.5 0 1 0 -23 0zM1081.2 355.8a11.5 11.5 0 1 0 23 0a11.5 11.5 0 1 0 -23 0zM1085.1 358.8a11.5 11.5 0 1 0 23 0a11.5 11.5 0 1 0 -23 0zM1088.9 381.7a11.5 11.5 0 1 0 23 0a11.5 11.5 0 1 0 -23 0zM1092.7 397.7a11.5 11.5 0 1 0 23 0a11.5 11.5 0 1 0 -23 0zM1096.6 408.8a11.5 11.5 0 1 0 23 0a11.5 11.5 0 1 0 -23 0zM1100.4 384a11.5 11.5 0 1 0 23 0a11.5 11.5 0 1 0 -23 0zM1104.3 372.8a11.5 11.5 0 1 0 23 0a11.5 11.5 0 1 0 -23 0zM1108.1 355a11.5 11.5 0 1 0 23 0a11.5 11.5 0 1 0 -23 0zM1111.9 366.1a11.5 11.5 0 1 0 23 0a11.5 11.5 0 1 0 -23 0zM1115.8 377.5a11.5 11.5 0 1 0 23 0a11.5 11.5 0 1 0 -23 0zM1119.6 405.3a11.5 11.5 0 1 0 23 0a11.5 11.5 0 1 0 -23 0zM1123.5 427.2a11.5 11.5 0 1 0 23 0a11.5 11.5 0 1 0 -23 0zM1127.3 417.6a11.5 11.5 0 1 0 23 0a11.5 11.5 0 1 0 -23 0zM1131.1 412.1a11.5 11.5 0 1 0 23 0a11.5 11.5 0 1 0 -23 0zM1135 405.7a11.5 11.5 0 1 0 23 0a11.5 11.5 0 1 0 -23 0zM1138.8 424.1a11.5 11.5 0 1 0 23 0a11.5 11.5 0 1 0 -23 0zM1142.7 442.8a11.5 11.5 0 1 0 23 0a11.5 11.5 0 1 0 -23 0zM1146.5 464.2a11.5 11.5 0 1 0 23 0a11.5 11.5 0 1 0 -23 0zM1150.3 478.1a11.5 11.5 0 1 0 23 0a11.5 11.5 0 1 0 -23 0zM1154.2 477.8a11.5 11.5 0 1 0 23 0a11.5 11.5 0 1 0 -23 0zM1158 463.8a11.5 11.5 0 1 0 23 0a11.5 11.5 0 1 0 -23 0zM1161.9 456.7a11.5 11.5 0 1 0 23 0a11.5 11.5 0 1 0 -23 0zM1165.7 475.3a11.5 11.5 0 1 0 23 0a11.5 11.5 0 1 0 -23 0zM1169.5 488.9a11.5 11.5 0 1 0 23 0a11.5 11.5 0 1 0 -23 0zM1173.4 513.8a11.5 11.5 0 1 0 23 0a11.5 11.5 0 1 0 -23 0zM1177.2 502.3a11.5 11.5 0 1 0 23 0a11.5 11.5 0 1 0 -23 0zM1181.1 485.5a11.5 11.5 0 1 0 23 0a11.5 11.5 0 1 0 -23 0zM1184.9 467.8a11.5 11.5 0 1 0 23 0a11.5 11.5 0 1 0 -23 0zM1188.7 491.8a11.5 11.5 0 1 0 23 0a11.5 11.5 0 1 0 -23 0zM1192.6 510.9a11.5 11.5 0 1 0 23 0a11.5 11.5 0 1 0 -23 0zM1196.4 546.4a11.5 11.5 0 1 0 23 0a11.5 11.5 0 1 0 -23 0zM1200.3 545.1a11.5 11.5 0 1 0 23 0a11.5 11.5 0 1 0 -23 0zM1204.1 510.3a11.5 11.5 0 1 0 23 0a11.5 11.5 0 1 0 -23 0zM1207.9 491.7a11.5 11.5 0 1 0 23 0a11.5 11.5 0 1 0 -23 0zM1211.8 501.8a11.5 11.5 0 1 0 23 0a11.5 11.5 0 1 0 -23 0zM1215.6 522.4a11.5 11.5 0 1 0 23 0a11.5 11.5 0 1 0 -23 0zM1219.5 546.8a11.5 11.5 0 1 0 23 0a11.5 11.5 0 1 0 -23 0zM1223.3 541.8a11.5 11.5 0 1 0 23 0a11.5 11.5 0 1 0 -23 0zM1227.1 533.6a11.5 11.5 0 1 0 23 0a11.5 11.5 0 1 0 -23 0zM1231 519.2a11.5 11.5 0 1 0 23 0a11.5 11.5 0 1 0 -23 0zM1234.8 521.3a11.5 11.5 0 1 0 23 0a11.5 11.5 0 1 0 -23 0zM1238.7 530.6a11.5 11.5 0 1 0 23 0a11.5 11.5 0 1 0 -23 0zM1242.5 550.9a11.5 11.5 0 1 0 23 0a11.5 11.5 0 1 0 -23 0zM1246.3 559.3a11.5 11.5 0 1 0 23 0a11.5 11.5 0 1 0 -23 0zM1250.2 557.6a11.5 11.5 0 1 0 23 0a11.5 11.5 0 1 0 -23 0zM1254 553.7a11.5 11.5 0 1 0 23 0a11.5 11.5 0 1 0 -23 0zM1257.9 545.8a11.5 11.5 0 1 0 23 0a11.5 11.5 0 1 0 -23 0zM1261.7 537a11.5 11.5 0 1 0 23 0a11.5 11.5 0 1 0 -23 0zM1265.5 539.3a11.5 11.5 0 1 0 23 0a11.5 11.5 0 1 0 -23 0zM1269.4 552.4a11.5 11.5 0 1 0 23 0a11.5 11.5 0 1 0 -23 0zM1273.2 564.6a11.5 11.5 0 1 0 23 0a11.5 11.5 0 1 0 -23 0zM1277.1 584.3a11.5 11.5 0 1 0 23 0a11.5 11.5 0 1 0 -23 0zM1280.9 573a11.5 11.5 0 1 0 23 0a11.5 11.5 0 1 0 -23 0zM1284.7 558.4a11.5 11.5 0 1 0 23 0a11.5 11.5 0 1 0 -23 0zM1288.6 541.9a11.5 11.5 0 1 0 23 0a11.5 11.5 0 1 0 -23 0zM1292.4 549a11.5 11.5 0 1 0 23 0a11.5 11.5 0 1 0 -23 0zM1296.3 571.4a11.5 11.5 0 1 0 23 0a11.5 11.5 0 1 0 -23 0zM1300.1 585.3a11.5 11.5 0 1 0 23 0a11.5 11.5 0 1 0 -23 0zM1303.9 596.2a11.5 11.5 0 1 0 23 0a11.5 11.5 0 1 0 -23 0zM1307.8 589.7a11.5 11.5 0 1 0 23 0a11.5 11.5 0 1 0 -23 0zM1311.6 579.6a11.5 11.5 0 1 0 23 0a11.5 11.5 0 1 0 -23 0zM1315.5 573a11.5 11.5 0 1 0 23 0a11.5 11.5 0 1 0 -23 0zM1319.3 563.2a11.5 11.5 0 1 0 23 0a11.5 11.5 0 1 0 -23 0zM1323.1 587.9a11.5 11.5 0 1 0 23 0a11.5 11.5 0 1 0 -23 0zM1327 606.3a11.5 11.5 0 1 0 23 0a11.5 11.5 0 1 0 -23 0zM1330.8 616.6a11.5 11.5 0 1 0 23 0a11.5 11.5 0 1 0 -23 0zM1334.7 612.7a11.5 11.5 0 1 0 23 0a11.5 11.5 0 1 0 -23 0zM1338.5 607.6a11.5 11.5 0 1 0 23 0a11.5 11.5 0 1 0 -23 0zM1342.3 594.9a11.5 11.5 0 1 0 23 0a11.5 11.5 0 1 0 -23 0zM1346.2 593.4a11.5 11.5 0 1 0 23 0a11.5 11.5 0 1 0 -23 0zM1350 608.2a11.5 11.5 0 1 0 23 0a11.5 11.5 0 1 0 -23 0zM1353.9 622.9a11.5 11.5 0 1 0 23 0a11.5 11.5 0 1 0 -23 0zM1357.7 635a11.5 11.5 0 1 0 23 0a11.5 11.5 0 1 0 -23 0zM1361.5 619.2a11.5 11.5 0 1 0 23 0a11.5 11.5 0 1 0 -23 0zM1365.4 610.4a11.5 11.5 0 1 0 23 0a11.5 11.5 0 1 0 -23 0zM1369.2 591.3a11.5 11.5 0 1 0 23 0a11.5 11.5 0 1 0 -23 0zM1373.1 603.3a11.5 11.5 0 1 0 23 0a11.5 11.5 0 1 0 -23 0zM1376.9 608.8a11.5 11.5 0 1 0 23 0a11.5 11.5 0 1 0 -23 0zM1380.7 616.7a11.5 11.5 0 1 0 23 0a11.5 11.5 0 1 0 -23 0zM1384.6 616.7a11.5 11.5 0 1 0 23 0a11.5 11.5 0 1 0 -23 0zM1388.4 600.6a11.5 11.5 0 1 0 23 0a11.5 11.5 0 1 0 -23 0zM1392.3 587.3a11.5 11.5 0 1 0 23 0a11.5 11.5 0 1 0 -23 0zM1396.1 591.7a11.5 11.5 0 1 0 23 0a11.5 11.5 0 1 0 -23 0zM1399.9 604.3a11.5 11.5 0 1 0 23 0a11.5 11.5 0 1 0 -23 0zM1403.8 614.8a11.5 11.5 0 1 0 23 0a11.5 11.5 0 1 0 -23 0zM1407.6 624.8a11.5 11.5 0 1 0 23 0a11.5 11.5 0 1 0 -23 0zM1411.5 613.4a11.5 11.5 0 1 0 23 0a11.5 11.5 0 1 0 -23 0zM1415.3 601.2a11.5 11.5 0 1 0 23 0a11.5 11.5 0 1 0 -23 0zM1419.1 596.7a11.5 11.5 0 1 0 23 0a11.5 11.5 0 1 0 -23 0zM1423 612.8a11.5 11.5 0 1 0 23 0a11.5 11.5 0 1 0 -23 0zM1426.8 631.7a11.5 11.5 0 1 0 23 0a11.5 11.5 0 1 0 -23 0zM1430.7 643.7a11.5 11.5 0 1 0 23 0a11.5 11.5 0 1 0 -23 0zM1434.5 634.1a11.5 11.5 0 1 0 23 0a11.5 11.5 0 1 0 -23 0zM1438.3 626.1a11.5 11.5 0 1 0 23 0a11.5 11.5 0 1 0 -23 0zM1442.2 618a11.5 11.5 0 1 0 23 0a11.5 11.5 0 1 0 -23 0zM1446 609.9a11.5 11.5 0 1 0 23 0a11.5 11.5 0 1 0 -23 0zM1449.9 620a11.5 11.5 0 1 0 23 0a11.5 11.5 0 1 0 -23 0zM1453.7 623.2a11.5 11.5 0 1 0 23 0a11.5 11.5 0 1 0 -23 0zM1457.5 631.1a11.5 11.5 0 1 0 23 0a11.5 11.5 0 1 0 -23 0zM1461.4 624.7a11.5 11.5 0 1 0 23 0a11.5 11.5 0 1 0 -23 0zM1465.2 619.7a11.5 11.5 0 1 0 23 0a11.5 11.5 0 1 0 -23 0zM1469.1 604.8a11.5 11.5 0 1 0 23 0a11.5 11.5 0 1 0 -23 0zM1472.9 600.6a11.5 11.5 0 1 0 23 0a11.5 11.5 0 1 0 -23 0zM1476.7 615.8a11.5 11.5 0 1 0 23 0a11.5 11.5 0 1 0 -23 0zM1480.6 628.8a11.5 11.5 0 1 0 23 0a11.5 11.5 0 1 0 -23 0zM1484.4 639.8a11.5 11.5 0 1 0 23 0a11.5 11.5 0 1 0 -23 0zM1488.3 628.9a11.5 11.5 0 1 0 23 0a11.5 11.5 0 1 0 -23 0zM1492.1 610.1a11.5 11.5 0 1 0 23 0a11.5 11.5 0 1 0 -23 0zM1495.9 600a11.5 11.5 0 1 0 23 0a11.5 11.5 0 1 0 -23 0zM1499.8 600.7a11.5 11.5 0 1 0 23 0a11.5 11.5 0 1 0 -23 0zM1503.6 613.5a11.5 11.5 0 1 0 23 0a11.5 11.5 0 1 0 -23 0zM1507.5 631.5a11.5 11.5 0 1 0 23 0a11.5 11.5 0 1 0 -23 0zM1511.3 647.5a11.5 11.5 0 1 0 23 0a11.5 11.5 0 1 0 -23 0zM1515.1 636.2a11.5 11.5 0 1 0 23 0a11.5 11.5 0 1 0 -23 0zM1519 611a11.5 11.5 0 1 0 23 0a11.5 11.5 0 1 0 -23 0zM1522.8 611.5a11.5 11.5 0 1 0 23 0a11.5 11.5 0 1 0 -23 0zM1526.7 632.3a11.5 11.5 0 1 0 23 0a11.5 11.5 0 1 0 -23 0zM1530.5 648.6a11.5 11.5 0 1 0 23 0a11.5 11.5 0 1 0 -23 0zM1534.3 673.4a11.5 11.5 0 1 0 23 0a11.5 11.5 0 1 0 -23 0zM1538.2 652.6a11.5 11.5 0 1 0 23 0a11.5 11.5 0 1 0 -23 0zM1542 605.6a11.5 11.5 0 1 0 23 0a11.5 11.5 0 1 0 -23 0zM1545.9 627.8a11.5 11.5 0 1 0 23 0a11.5 11.5 0 1 0 -23 0zM1549.7 636.9a11.5 11.5 0 1 0 23 0a11.5 11.5 0 1 0 -23 0zM1553.5 653.8a11.5 11.5 0 1 0 23 0a11.5 11.5 0 1 0 -23 0zM1557.4 678.5a11.5 11.5 0 1 0 23 0a11.5 11.5 0 1 0 -23 0zM1561.2 696.9a11.5 11.5 0 1 0 23 0a11.5 11.5 0 1 0 -23 0zM1565.1 674a11.5 11.5 0 1 0 23 0a11.5 11.5 0 1 0 -23 0zM1568.9 665.4a11.5 11.5 0 1 0 23 0a11.5 11.5 0 1 0 -23 0zM1572.7 664.9a11.5 11.5 0 1 0 23 0a11.5 11.5 0 1 0 -23 0zM1576.6 682.1a11.5 11.5 0 1 0 23 0a11.5 11.5 0 1 0 -23 0zM1580.4 696.1a11.5 11.5 0 1 0 23 0a11.5 11.5 0 1 0 -23 0zM1584.3 716.6a11.5 11.5 0 1 0 23 0a11.5 11.5 0 1 0 -23 0zM1588.1 708.2a11.5 11.5 0 1 0 23 0a11.5 11.5 0 1 0 -23 0zM1591.9 691.8a11.5 11.5 0 1 0 23 0a11.5 11.5 0 1 0 -23 0zM1595.8 688.4a11.5 11.5 0 1 0 23 0a11.5 11.5 0 1 0 -23 0zM1599.6 675.5a11.5 11.5 0 1 0 23 0a11.5 11.5 0 1 0 -23 0zM1603.5 690.7a11.5 11.5 0 1 0 23 0a11.5 11.5 0 1 0 -23 0zM1607.3 706.6a11.5 11.5 0 1 0 23 0a11.5 11.5 0 1 0 -23 0zM1611.1 715.9a11.5 11.5 0 1 0 23 0a11.5 11.5 0 1 0 -23 0zM1615 723.4a11.5 11.5 0 1 0 23 0a11.5 11.5 0 1 0 -23 0zM1618.8 719.5a11.5 11.5 0 1 0 23 0a11.5 11.5 0 1 0 -23 0zM1622.7 705.6a11.5 11.5 0 1 0 23 0a11.5 11.5 0 1 0 -23 0zM1626.5 696.2a11.5 11.5 0 1 0 23 0a11.5 11.5 0 1 0 -23 0zM1630.3 711.4a11.5 11.5 0 1 0 23 0a11.5 11.5 0 1 0 -23 0zM1634.2 725.3a11.5 11.5 0 1 0 23 0a11.5 11.5 0 1 0 -23 0zM1638 736.3a11.5 11.5 0 1 0 23 0a11.5 11.5 0 1 0 -23 0zM1641.9 737.4a11.5 11.5 0 1 0 23 0a11.5 11.5 0 1 0 -23 0zM1645.7 729.8a11.5 11.5 0 1 0 23 0a11.5 11.5 0 1 0 -23 0zM1649.5 722.1a11.5 11.5 0 1 0 23 0a11.5 11.5 0 1 0 -23 0zM1653.4 729.2a11.5 11.5 0 1 0 23 0a11.5 11.5 0 1 0 -23 0zM1657.2 734.5a11.5 11.5 0 1 0 23 0a11.5 11.5 0 1 0 -23 0zM1661.1 740.5a11.5 11.5 0 1 0 23 0a11.5 11.5 0 1 0 -23 0zM1664.9 748.5a11.5 11.5 0 1 0 23 0a11.5 11.5 0 1 0 -23 0zM1668.7 743.8a11.5 11.5 0 1 0 23 0a11.5 11.5 0 1 0 -23 0zM1672.6 742.5a11.5 11.5 0 1 0 23 0a11.5 11.5 0 1 0 -23 0zM1676.4 739a11.5 11.5 0 1 0 23 0a11.5 11.5 0 1 0 -23 0zM1680.3 742.4a11.5 11.5 0 1 0 23 0a11.5 11.5 0 1 0 -23 0zM1684.1 741.4a11.5 11.5 0 1 0 23 0a11.5 11.5 0 1 0 -23 0zM1687.9 746.8a11.5 11.5 0 1 0 23 0a11.5 11.5 0 1 0 -23 0zM1691.8 751.3a11.5 11.5 0 1 0 23 0a11.5 11.5 0 1 0 -23 0zM1695.6 740.9a11.5 11.5 0 1 0 23 0a11.5 11.5 0 1 0 -23 0zM1699.5 733.9a11.5 11.5 0 1 0 23 0a11.5 11.5 0 1 0 -23 0zM1703.3 727.6a11.5 11.5 0 1 0 23 0a11.5 11.5 0 1 0 -23 0zM1707.1 727.1a11.5 11.5 0 1 0 23 0a11.5 11.5 0 1 0 -23 0zM1711 736.4a11.5 11.5 0 1 0 23 0a11.5 11.5 0 1 0 -23 0zM1714.8 744.1a11.5 11.5 0 1 0 23 0a11.5 11.5 0 1 0 -23 0zM1718.7 744.3a11.5 11.5 0 1 0 23 0a11.5 11.5 0 1 0 -23 0zM1722.5 738a11.5 11.5 0 1 0 23 0a11.5 11.5 0 1 0 -23 0zM1726.3 723.6a11.5 11.5 0 1 0 23 0a11.5 11.5 0 1 0 -23 0zM1730.2 714.7a11.5 11.5 0 1 0 23 0a11.5 11.5 0 1 0 -23 0zM1734 718.3a11.5 11.5 0 1 0 23 0a11.5 11.5 0 1 0 -23 0zM1737.9 725.4a11.5 11.5 0 1 0 23 0a11.5 11.5 0 1 0 -23 0zM1741.7 736.7a11.5 11.5 0 1 0 23 0a11.5 11.5 0 1 0 -23 0zM1745.5 732.6a11.5 11.5 0 1 0 23 0a11.5 11.5 0 1 0 -23 0zM1749.4 729.1a11.5 11.5 0 1 0 23 0a11.5 11.5 0 1 0 -23 0zM1753.2 725.3a11.5 11.5 0 1 0 23 0a11.5 11.5 0 1 0 -23 0zM1757.1 720.1a11.5 11.5 0 1 0 23 0a11.5 11.5 0 1 0 -23 0zM1760.9 720.7a11.5 11.5 0 1 0 23 0a11.5 11.5 0 1 0 -23 0zM1764.7 726.1a11.5 11.5 0 1 0 23 0a11.5 11.5 0 1 0 -23 0zM1768.6 728.8a11.5 11.5 0 1 0 23 0a11.5 11.5 0 1 0 -23 0zM1772.4 727.3a11.5 11.5 0 1 0 23 0a11.5 11.5 0 1 0 -23 0zM1776.3 725.5a11.5 11.5 0 1 0 23 0a11.5 11.5 0 1 0 -23 0zM1780.1 722.3a11.5 11.5 0 1 0 23 0a11.5 11.5 0 1 0 -23 0zM1783.9 718.2a11.5 11.5 0 1 0 23 0a11.5 11.5 0 1 0 -23 0zM1787.8 720.5a11.5 11.5 0 1 0 23 0a11.5 11.5 0 1 0 -23 0zM1791.6 727.8a11.5 11.5 0 1 0 23 0a11.5 11.5 0 1 0 -23 0zM1795.5 736.5a11.5 11.5 0 1 0 23 0a11.5 11.5 0 1 0 -23 0zM1799.3 737a11.5 11.5 0 1 0 23 0a11.5 11.5 0 1 0 -23 0zM1803.1 736.4a11.5 11.5 0 1 0 23 0a11.5 11.5 0 1 0 -23 0zM1807 729.5a11.5 11.5 0 1 0 23 0a11.5 11.5 0 1 0 -23 0zM1810.8 724.8a11.5 11.5 0 1 0 23 0a11.5 11.5 0 1 0 -23 0zM1814.7 728.3a11.5 11.5 0 1 0 23 0a11.5 11.5 0 1 0 -23 0zM1818.5 731.1a11.5 11.5 0 1 0 23 0a11.5 11.5 0 1 0 -23 0z" fill="#f00"/>
<path d="M294,1319.5 297.8,1319.5 301.7,1319.5 305.5,1319.5 309.4,1319.5 313.2,1319.5 317,1319.5 320.9,1319.5 324.7,1319.5 328.6,1319.5 332.4,1319.5 336.2,1319.5 340.1,1319.5 343.9,1319.5 347.8,1319.5 351.6,1319.5 355.4,1319.5 359.3,1319.5 363.1,1319.5 367,1319.5 370.8,1319.5 374.6,1319.5 378.5,1319.5 382.3,1319.5 386.2,1319.5 390,1319.5 393.8,1319.5 397.7,1319.5 401.5,1319.5 405.4,1319.5 409.2,1319.5 413,1319.5 416.9,1319.5 420.7,1319.5 424.6,1319.5 428.4,1319.5 432.2,1319.5 436.1,1319.5 439.9,1319.5 443.8,1319.5 447.6,1319.5 451.4,1319.5 455.3,1319.5 459.1,1319.5 463,1319.5 466.8,1319.5 470.6,1319.5 474.5,1319.5 478.3,1319.5 482.2,1319.5 486,1319.5 489.8,1319.5 493.7,1319.5 497.5,1319.5 501.4,1319.5 505.2,1319.5 509,1319.5 512.9,1319.5 516.7,1319.5 520.6,1319.5 524.4,1319.5 528.2,1319.5 532.1,1319.5 535.9,1316.4 539.8,1300.8 543.6,1275.9 547.4,1257.2 551.3,1232.2 555.1,1205.4 559,1168 562.8,1138.7 566.6,1070.1 570.5,1038.9 574.3,1007.8 578.2,989 582,976.6 585.8,964.1 589.7,951.6 593.5,932.9 597.4,914.2 601.2,908 605,838.6 608.9,850.4 612.7,875.7 616.6,915.6 620.4,900.2 624.2,864.9 628.1,821 631.9,826 635.8,833.4 639.6,867.4 643.4,870.8 647.3,838.3 651.1,810 655,793.8 658.8,801.7 662.6,828.4 666.5,835.1 670.3,832.7 674.2,801.2 678,778.4 681.8,748.3 685.7,788.5 689.5,810.5 693.4,839 697.2,836.5 701,820.6 704.9,765.9 708.7,750.3 712.6,767.4 716.4,821.8 720.2,845.1 724.1,807.2 727.9,768.7 731.8,744.4 735.6,751.4 739.4,760.6 743.3,788.3 747.1,791.7 751,771.7 754.8,751.4 758.6,738.9 762.5,744.1 766.3,757.2 770.2,791.7 774,792 777.8,782.6 781.7,757.6 785.5,750.3 789.4,760.2 793.2,775.2 797,781.8 800.9,793.5 804.7,787 808.6,761.5 812.4,748.9 816.2,739.8 820.1,755.6 823.9,760.4 827.8,771.3 831.6,767.8 835.4,747.5 839.3,733.8 843.1,739.2 847,746.7 850.8,763.7 854.6,751.5 858.5,740.6 862.3,726.6 866.2,717.2 870,724.7 873.8,731.3 877.7,739.2 881.5,738.6 885.4,724.6 889.2,714.5 893,706.2 896.9,707 900.7,710.4 904.6,721.1 908.4,729.9 912.2,722.1 916.1,704.7 919.9,684.1 923.8,665.3 927.6,661.4 931.4,685 935.3,693.4 939.1,669.7 943,644.3 946.8,624 950.6,629.9 954.5,644.7 958.3,664.3 962.2,645.1 966,627.1 969.8,610.8 973.7,588.6 977.5,595.8 981.4,615 985.2,634 989,625.8 992.9,593 996.7,573.8 1000.6,550.9 1004.4,578.2 1008.2,576.6 1012.1,590.6 1015.9,598.9 1019.8,551.6 1023.6,526.3 1027.4,500.6 1031.3,513.6 1035.1,527.5 1039,548.5 1042.8,555.1 1046.6,515.6 1050.5,503.1 1054.3,478.6 1058.2,468 1062,488.9 1065.8,501.4 1069.7,513.9 1073.5,496.8 1077.4,474.1 1081.2,457 1085,444.6 1088.9,456.8 1092.7,470.2 1096.6,491.8 1100.4,490.7 1104.2,488.8 1108.1,480.2 1111.9,469.6 1115.8,496.3 1119.6,527.4 1123.4,546.2 1127.3,544.9 1131.1,534.8 1135,532.8 1138.8,537.9 1142.6,550.9 1146.5,557 1150.3,565.1 1154.2,561.6 1158,561.8 1161.8,565.1 1165.7,570.4 1169.5,577.9 1173.4,586 1177.2,595 1181,596.9 1184.9,599.4 1188.7,597.6 1192.6,601.8 1196.4,609 1200.2,614.3 1204.1,621.9 1207.9,622.1 1211.8,615.4 1215.6,610.1 1219.4,606 1223.3,614.4 1227.1,626.4 1231,636.8 1234.8,640.7 1238.6,632.9 1242.5,632.4 1246.3,624 1250.2,626 1254,637.2 1257.8,659.7 1261.7,667.7 1265.5,662.5 1269.4,649 1273.2,640.6 1277,650.8 1280.9,668.2 1284.7,685.8 1288.6,683.8 1292.4,672.6 1296.2,665.5 1300.1,667 1303.9,678.2 1307.8,684 1311.6,695.2 1315.4,698.6 1319.3,696.6 1323.1,690.4 1327,691.4 1330.8,701.6 1334.6,711 1338.5,713.2 1342.3,706 1346.2,696.3 1350,692.4 1353.8,695.7 1357.7,701.7 1361.5,710.6 1365.4,698.1 1369.2,692.8 1373,680.5 1376.9,667.6 1380.7,681.2 1384.6,697.5 1388.4,713.2 1392.2,705.6 1396.1,694.6 1399.9,691.4 1403.8,691.1 1407.6,705.6 1411.4,719.2 1415.3,730.9 1419.1,721.8 1423,713.8 1426.8,707.3 1430.6,707.5 1434.5,712 1438.3,723.3 1442.2,731.7 1446,735.5 1449.8,727.7 1453.7,723.7 1457.5,715.4 1461.4,719.6 1465.2,728.2 1469,735 1472.9,740.3 1476.7,740.3 1480.6,735.5 1484.4,730 1488.2,725.1 1492.1,735.6 1495.9,743 1499.8,745.4 1503.6,749 1507.4,744.1 1511.3,734.5 1515.1,727.9 1519,734.5 1522.8,741.6 1526.6,742.8 1530.5,747.9 1534.3,742.6 1538.2,737.8 1542,736.9 1545.8,742.3 1549.7,749.1 1553.5,756.7 1557.4,759.4 1561.2,761.4 1565,757.1 1568.9,757.1 1572.7,766 1576.6,771.3 1580.4,777.2 1584.2,780.3 1588.1,779.8 1591.9,778.6 1595.8,777.3 1599.6,777.4 1603.4,781.6 1607.3,783.8 1611.1,784.1 1615,783.9 1618.8,783.7 1622.6,784.3 1626.5,787 1630.3,792.1 1634.2,795.2 1638,797.3 1641.8,799.9 1645.7,803.4 1649.5,806.3 1653.4,807.8 1657.2,807.5 1661,805.3 1664.9,806.3 1668.7,807.1 1672.6,806.1 1676.4,804.3 1680.2,803.3 1684.1,803.8 1687.9,806.5 1691.8,803.1 1695.6,799 1699.4,792.8 1703.3,791.5 1707.1,793.2 1711,803.1 1714.8,803.1 1718.6,801.3 1722.5,796.5 1726.3,796.2 1730.2,799.1 1734,802.5 1737.8,804.4 1741.7,807.2 1745.5,805.5 1749.4,802.9 1753.2,799.2 1757,796.4 1760.9,797.5 1764.7,799.8 1768.6,801.1 1772.4,801.4 1776.2,796.9 1780.1,788.5 1783.9,772.3 1787.8,773.5 1791.6,781.5 1795.4,787.1 1799.3,787.3 1803.1,782.1 1807,778.8 1810.8,779.2 1814.6,784 1818.5,789.5 1822.3,790.2 1826.2,786.2 1830,782.6" fill="none" stroke="#008000" stroke-width="4.5" stroke-linejoin="round"/>
<path d="M294 1302.8L308 1327.8H280zM297.8 1302.8L311.8 1327.8H283.8zM301.7 1302.8L315.7 1327.8H287.7zM305.5 1302.8L319.5 1327.8H291.5zM309.4 1302.8L323.4 1327.8H295.4zM313.2 1302.8L327.2 1327.8H299.2zM317 1302.8L331 1327.8H303zM320.9 1302.8L334.9 1327.8H306.9zM324.7 1302.8L338.7 1327.8H310.7zM328.6 1302.8L342.6 1327.8H314.6zM332.4 1302.8L346.4 1327.8H318.4zM336.2 1302.8L350.2 1327.8H322.2zM340.1 1302.8L354.1 1327.8H326.1zM343.9 1302.8L357.9 1327.8H329.9zM347.8 1302.8L361.8 1327.8H333.8zM351.6 1302.8L365.6 1327.8H337.6zM355.4 1302.8L369.4 1327.8H341.4zM359.3 1302.8L373.3 1327.8H345.3zM363.1 1302.8L377.1 1327.8H349.1zM367 1302.8L381 1327.8H353zM370.8 1302.8L384.8 1327.8H356.8zM374.6 1302.8L388.6 1327.8H360.6zM378.5 1302.8L392.5 1327.8H364.5zM382.3 1302.8L396.3 1327.8H368.3zM386.2 1302.8L400.2 1327.8H372.2zM390 1302.8L404 1327.8H376zM393.8 1302.8L407.8 1327.8H379.8zM397.7 1302.8L411.7 1327.8H383.7zM401.5 1302.8L415.5 1327.8H387.5zM405.4 1302.8L419.4 1327.8H391.4zM409.2 1302.8L423.2 1327.8H395.2zM413 1302.8L427 1327.8H399zM416.9 1302.8L430.9 1327.8H402.9zM420.7 1302.8L434.7 1327.8H406.7zM424.6 1302.8L438.6 1327.8H410.6zM428.4 1302.8L442.4 1327.8H414.4zM432.2 1302.8L446.2 1327.8H418.2zM436.1 1302.8L450.1 1327.8H422.1zM439.9 1302.8L453.9 1327.8H425.9zM443.8 1302.8L457.8 1327.8H429.8zM447.6 1302.8L461.6 1327.8H433.6zM451.4 1302.8L465.4 1327.8H437.4zM455.3 1302.8L469.3 1327.8H441.3zM459.1 1302.8L473.1 1327.8H445.1zM463 1302.8L477 1327.8H449zM466.8 1302.8L480.8 1327.8H452.8zM470.6 1302.8L484.6 1327.8H456.6zM474.5 1302.8L488.5 1327.8H460.5zM478.3 1302.8L492.3 1327.8H464.3zM482.2 1302.8L496.2 1327.8H468.2zM486 1302.8L500 1327.8H472zM489.8 1302.8L503.8 1327.8H475.8zM493.7 1302.8L507.7 1327.8H479.7zM497.5 1302.8L511.5 1327.8H483.5zM501.4 1302.8L515.4 1327.8H487.4zM505.2 1302.8L519.2 1327.8H491.2zM509 1302.8L523 1327.8H495zM512.9 1302.8L526.9 1327.8H498.9zM516.7 1302.8L530.7 1327.8H502.7zM520.6 1302.8L534.6 1327.8H506.6zM524.4 1302.8L538.4 1327.8H510.4zM528.2 1302.8L542.2 1327.8H514.2zM532.1 1302.8L546.1 1327.8H518.1zM535.9 1299.7L549.9 1324.7H521.9zM539.8 1284.1L553.8 1309.1H525.8zM543.6 1259.2L557.6 1284.2H529.6zM547.4 1240.5L561.4 1265.5H533.4zM551.3 1215.5L565.3 1240.5H537.3zM555.1 1188.7L569.1 1213.7H541.1zM559 1151.3L573 1176.3H545zM562.8 1122L576.8 1147H548.8zM566.6 1053.4L580.6 1078.4H552.6zM570.5 1022.3L584.5 1047.3H556.5zM574.3 991.1L588.3 1016.1H560.3zM578.2 972.4L592.2 997.4H564.2zM582 959.9L596 984.9H568zM585.8 947.4L599.8 972.4H571.8zM589.7 935L603.7 960H575.7zM593.5 916.3L607.5 941.3H579.5zM597.4 897.6L611.4 922.6H583.4zM601.2 891.3L615.2 916.3H587.2zM605 821.9L619 846.9H591zM608.9 833.8L622.9 858.8H594.9zM612.7 859L626.7 884H598.7zM616.6 898.9L630.6 923.9H602.6zM620.4 883.6L634.4 908.6H606.4zM624.2 848.2L638.2 873.2H610.2zM628.1 804.3L642.1 829.3H614.1zM631.9 809.3L645.9 834.3H617.9zM635.8 816.7L649.8 841.7H621.8zM639.6 850.7L653.6 875.7H625.6zM643.4 854.2L657.4 879.2H629.4zM647.3 821.6L661.3 846.6H633.3zM651.1 793.3L665.1 818.3H637.1zM655 777.1L669 802.1H641zM658.8 785L672.8 810H644.8zM662.6 811.7L676.6 836.7H648.6zM666.5 818.4L680.5 843.4H652.5zM670.3 816L684.3 841H656.3zM674.2 784.5L688.2 809.5H660.2zM678 761.8L692 786.8H664zM681.8 731.7L695.8 756.7H667.8zM685.7 771.9L699.7 796.9H671.7zM689.5 793.8L703.5 818.8H675.5zM693.4 822.4L707.4 847.4H679.4zM697.2 819.9L711.2 844.9H683.2zM701 804L715 829H687zM704.9 749.3L718.9 774.3H690.9zM708.7 733.6L722.7 758.6H694.7zM712.6 750.7L726.6 775.7H698.6zM716.4 805.1L730.4 830.1H702.4zM720.2 828.4L734.2 853.4H706.2zM724.1 790.6L738.1 815.6H710.1zM727.9 752L741.9 777H713.9zM731.8 727.8L745.8 752.8H717.8zM735.6 734.7L749.6 759.7H721.6zM739.4 743.9L753.4 768.9H725.4zM743.3 771.6L757.3 796.6H729.3zM747.1 775L761.1 800H733.1zM751 755.1L765 780.1H737zM754.8 734.8L768.8 759.8H740.8zM758.6 722.2L772.6 747.2H744.6zM762.5 727.5L776.5 752.5H748.5zM766.3 740.5L780.3 765.5H752.3zM770.2 775L784.2 800H756.2zM774 775.3L788 800.3H760zM777.8 765.9L791.8 790.9H763.8zM781.7 740.9L795.7 765.9H767.7zM785.5 733.6L799.5 758.6H771.5zM789.4 743.5L803.4 768.5H775.4zM793.2 758.6L807.2 783.6H779.2zM797 765.2L811 790.2H783zM800.9 776.8L814.9 801.8H786.9zM804.7 770.4L818.7 795.4H790.7zM808.6 744.9L822.6 769.9H794.6zM812.4 732.2L826.4 757.2H798.4zM816.2 723.1L830.2 748.1H802.2zM820.1 738.9L834.1 763.9H806.1zM823.9 743.8L837.9 768.8H809.9zM827.8 754.7L841.8 779.7H813.8zM831.6 751.1L845.6 776.1H817.6zM835.4 730.8L849.4 755.8H821.4zM839.3 717.1L853.3 742.1H825.3zM843.1 722.5L857.1 747.5H829.1zM847 730L861 755H833zM850.8 747L864.8 772H836.8zM854.6 734.8L868.6 759.8H840.6zM858.5 724L872.5 749H844.5zM862.3 709.9L876.3 734.9H848.3zM866.2 700.5L880.2 725.5H852.2zM870 708L884 733H856zM873.8 714.6L887.8 739.6H859.8zM877.7 722.5L891.7 747.5H863.7zM881.5 721.9L895.5 746.9H867.5zM885.4 708L899.4 733H871.4zM889.2 697.8L903.2 722.8H875.2zM893 689.5L907 714.5H879zM896.9 690.3L910.9 715.3H882.9zM900.7 693.7L914.7 718.7H886.7zM904.6 704.5L918.6 729.5H890.6zM908.4 713.3L922.4 738.3H894.4zM912.2 705.5L926.2 730.5H898.2zM916.1 688.1L930.1 713.1H902.1zM919.9 667.5L933.9 692.5H905.9zM923.8 648.6L937.8 673.6H909.8zM927.6 644.7L941.6 669.7H913.6zM931.4 668.3L945.4 693.3H917.4zM935.3 676.7L949.3 701.7H921.3zM939.1 653.1L953.1 678.1H925.1zM943 627.6L957 652.6H929zM946.8 607.4L960.8 632.4H932.8zM950.6 613.2L964.6 638.2H936.6zM954.5 628L968.5 653H940.5zM958.3 647.6L972.3 672.6H944.3zM962.2 628.4L976.2 653.4H948.2zM966 610.5L980 635.5H952zM969.8 594.1L983.8 619.1H955.8zM973.7 571.9L987.7 596.9H959.7zM977.5 579.1L991.5 604.1H963.5zM981.4 598.3L995.4 623.3H967.4zM985.2 617.3L999.2 642.3H971.2zM989 609.1L1003 634.1H975zM992.9 576.3L1006.9 601.3H978.9zM996.7 557.2L1010.7 582.2H982.7zM1000.6 534.3L1014.6 559.3H986.6zM1004.4 561.6L1018.4 586.6H990.4zM1008.2 559.9L1022.2 584.9H994.2zM1012.1 573.9L1026.1 598.9H998.1zM1015.9 582.2L1029.9 607.2H1001.9zM1019.8 535L1033.8 560H1005.8zM1023.6 509.7L1037.6 534.7H1009.6zM1027.4 483.9L1041.4 508.9H1013.4zM1031.3 496.9L1045.3 521.9H1017.3zM1035.1 510.9L1049.1 535.9H1021.1zM1039 531.8L1053 556.8H1025zM1042.8 538.4L1056.8 563.4H1028.8zM1046.6 498.9L1060.6 523.9H1032.6zM1050.5 486.4L1064.5 511.4H1036.5zM1054.3 461.9L1068.3 486.9H1040.3zM1058.2 451.3L1072.2 476.3H1044.2zM1062 472.2L1076 497.2H1048zM1065.8 484.7L1079.8 509.7H1051.8zM1069.7 497.2L1083.7 522.2H1055.7zM1073.5 480.1L1087.5 505.1H1059.5zM1077.4 457.5L1091.4 482.5H1063.4zM1081.2 440.4L1095.2 465.4H1067.2zM1085 427.9L1099 452.9H1071zM1088.9 440.2L1102.9 465.2H1074.9zM1092.7 453.6L1106.7 478.6H1078.7zM1096.6 475.1L1110.6 500.1H1082.6zM1100.4 474L1114.4 499H1086.4zM1104.2 472.2L1118.2 497.2H1090.2zM1108.1 463.6L1122.1 488.6H1094.1zM1111.9 453L1125.9 478H1097.9zM1115.8 479.6L1129.8 504.6H1101.8zM1119.6 510.7L1133.6 535.7H1105.6zM1123.4 529.6L1137.4 554.6H1109.4zM1127.3 528.2L1141.3 553.2H1113.3zM1131.1 518.1L1145.1 543.1H1117.1zM1135 516.2L1149 541.2H1121zM1138.8 521.2L1152.8 546.2H1124.8zM1142.6 534.2L1156.6 559.2H1128.6zM1146.5 540.3L1160.5 565.3H1132.5zM1150.3 548.4L1164.3 573.4H1136.3zM1154.2 544.9L1168.2 569.9H1140.2zM1158 545.1L1172 570.1H1144zM1161.8 548.4L1175.8 573.4H1147.8zM1165.7 553.8L1179.7 578.8H1151.7zM1169.5 561.2L1183.5 586.2H1155.5zM1173.4 569.4L1187.4 594.4H1159.4zM1177.2 578.4L1191.2 603.4H1163.2zM1181 580.3L1195 605.3H1167zM1184.9 582.7L1198.9 607.7H1170.9zM1188.7 581L1202.7 606H1174.7zM1192.6 585.2L1206.6 610.2H1178.6zM1196.4 592.4L1210.4 617.4H1182.4zM1200.2 597.6L1214.2 622.6H1186.2zM1204.1 605.2L1218.1 630.2H1190.1zM1207.9 605.5L1221.9 630.5H1193.9zM1211.8 598.7L1225.8 623.7H1197.8zM1215.6 593.4L1229.6 618.4H1201.6zM1219.4 589.3L1233.4 614.3H1205.4zM1223.3 597.7L1237.3 622.7H1209.3zM1227.1 609.7L1241.1 634.7H1213.1zM1231 620.1L1245 645.1H1217zM1234.8 624L1248.8 649H1220.8zM1238.6 616.3L1252.6 641.3H1224.6zM1242.5 615.7L1256.5 640.7H1228.5zM1246.3 607.4L1260.3 632.4H1232.3zM1250.2 609.3L1264.2 634.3H1236.2zM1254 620.5L1268 645.5H1240zM1257.8 643L1271.8 668H1243.8zM1261.7 651.1L1275.7 676.1H1247.7zM1265.5 645.8L1279.5 670.8H1251.5zM1269.4 632.3L1283.4 657.3H1255.4zM1273.2 623.9L1287.2 648.9H1259.2zM1277 634.1L1291 659.1H1263zM1280.9 651.6L1294.9 676.6H1266.9zM1284.7 669.1L1298.7 694.1H1270.7zM1288.6 667.2L1302.6 692.2H1274.6zM1292.4 655.9L1306.4 680.9H1278.4zM1296.2 648.8L1310.2 673.8H1282.2zM1300.1 650.3L1314.1 675.3H1286.1zM1303.9 661.6L1317.9 686.6H1289.9zM1307.8 667.3L1321.8 692.3H1293.8zM1311.6 678.6L1325.6 703.6H1297.6zM1315.4 681.9L1329.4 706.9H1301.4zM1319.3 679.9L1333.3 704.9H1305.3zM1323.1 673.7L1337.1 698.7H1309.1zM1327 674.7L1341 699.7H1313zM1330.8 685L1344.8 710H1316.8zM1334.6 694.3L1348.6 719.3H1320.6zM1338.5 696.5L1352.5 721.5H1324.5zM1342.3 689.4L1356.3 714.4H1328.3zM1346.2 679.6L1360.2 704.6H1332.2zM1350 675.8L1364 700.8H1336zM1353.8 679L1367.8 704H1339.8zM1357.7 685L1371.7 710H1343.7zM1361.5 693.9L1375.5 718.9H1347.5zM1365.4 681.4L1379.4 706.4H1351.4zM1369.2 676.1L1383.2 701.1H1355.2zM1373 663.8L1387 688.8H1359zM1376.9 650.9L1390.9 675.9H1362.9zM1380.7 664.5L1394.7 689.5H1366.7zM1384.6 680.8L1398.6 705.8H1370.6zM1388.4 696.6L1402.4 721.6H1374.4zM1392.2 689L1406.2 714H1378.2zM1396.1 677.9L1410.1 702.9H1382.1zM1399.9 674.7L1413.9 699.7H1385.9zM1403.8 674.5L1417.8 699.5H1389.8zM1407.6 688.9L1421.6 713.9H1393.6zM1411.4 702.5L1425.4 727.5H1397.4zM1415.3 714.2L1429.3 739.2H1401.3zM1419.1 705.1L1433.1 730.1H1405.1zM1423 697.1L1437 722.1H1409zM1426.8 690.6L1440.8 715.6H1412.8zM1430.6 690.8L1444.6 715.8H1416.6zM1434.5 695.3L1448.5 720.3H1420.5zM1438.3 706.6L1452.3 731.6H1424.3zM1442.2 715.1L1456.2 740.1H1428.2zM1446 718.8L1460 743.8H1432zM1449.8 711L1463.8 736H1435.8zM1453.7 707L1467.7 732H1439.7zM1457.5 698.7L1471.5 723.7H1443.5zM1461.4 703L1475.4 728H1447.4zM1465.2 711.5L1479.2 736.5H1451.2zM1469 718.4L1483 743.4H1455zM1472.9 723.6L1486.9 748.6H1458.9zM1476.7 723.6L1490.7 748.6H1462.7zM1480.6 718.9L1494.6 743.9H1466.6zM1484.4 713.4L1498.4 738.4H1470.4zM1488.2 708.4L1502.2 733.4H1474.2zM1492.1 718.9L1506.1 743.9H1478.1zM1495.9 726.4L1509.9 751.4H1481.9zM1499.8 728.7L1513.8 753.7H1485.8zM1503.6 732.3L1517.6 757.3H1489.6zM1507.4 727.4L1521.4 752.4H1493.4zM1511.3 717.8L1525.3 742.8H1497.3zM1515.1 711.2L1529.1 736.2H1501.1zM1519 717.8L1533 742.8H1505zM1522.8 724.9L1536.8 749.9H1508.8zM1526.6 726.2L1540.6 751.2H1512.6zM1530.5 731.3L1544.5 756.3H1516.5zM1534.3 725.9L1548.3 750.9H1520.3zM1538.2 721.2L1552.2 746.2H1524.2zM1542 720.2L1556 745.2H1528zM1545.8 725.6L1559.8 750.6H1531.8zM1549.7 732.4L1563.7 757.4H1535.7zM1553.5 740L1567.5 765H1539.5zM1557.4 742.7L1571.4 767.7H1543.4zM1561.2 744.8L1575.2 769.8H1547.2zM1565 740.4L1579 765.4H1551zM1568.9 740.5L1582.9 765.5H1554.9zM1572.7 749.4L1586.7 774.4H1558.7zM1576.6 754.6L1590.6 779.6H1562.6zM1580.4 760.5L1594.4 785.5H1566.4zM1584.2 763.7L1598.2 788.7H1570.2zM1588.1 763.1L1602.1 788.1H1574.1zM1591.9 761.9L1605.9 786.9H1577.9zM1595.8 760.7L1609.8 785.7H1581.8zM1599.6 760.7L1613.6 785.7H1585.6zM1603.4 764.9L1617.4 789.9H1589.4zM1607.3 767.1L1621.3 792.1H1593.3zM1611.1 767.5L1625.1 792.5H1597.1zM1615 767.2L1629 792.2H1601zM1618.8 767L1632.8 792H1604.8zM1622.6 767.6L1636.6 792.6H1608.6zM1626.5 770.3L1640.5 795.3H1612.5zM1630.3 775.5L1644.3 800.5H1616.3zM1634.2 778.6L1648.2 803.6H1620.2zM1638 780.7L1652 805.7H1624zM1641.8 783.3L1655.8 808.3H1627.8zM1645.7 786.7L1659.7 811.7H1631.7zM1649.5 789.6L1663.5 814.6H1635.5zM1653.4 791.2L1667.4 816.2H1639.4zM1657.2 790.8L1671.2 815.8H1643.2zM1661 788.6L1675 813.6H1647zM1664.9 789.7L1678.9 814.7H1650.9zM1668.7 790.5L1682.7 815.5H1654.7zM1672.6 789.5L1686.6 814.5H1658.6zM1676.4 787.7L1690.4 812.7H1662.4zM1680.2 786.6L1694.2 811.6H1666.2zM1684.1 787.1L1698.1 812.1H1670.1zM1687.9 789.9L1701.9 814.9H1673.9zM1691.8 786.4L1705.8 811.4H1677.8zM1695.6 782.3L1709.6 807.3H1681.6zM1699.4 776.1L1713.4 801.1H1685.4zM1703.3 774.8L1717.3 799.8H1689.3zM1707.1 776.6L1721.1 801.6H1693.1zM1711 786.5L1725 811.5H1697zM1714.8 786.5L1728.8 811.5H1700.8zM1718.6 784.7L1732.6 809.7H1704.6zM1722.5 779.8L1736.5 804.8H1708.5zM1726.3 779.5L1740.3 804.5H1712.3zM1730.2 782.4L1744.2 807.4H1716.2zM1734 785.8L1748 810.8H1720zM1737.8 787.7L1751.8 812.7H1723.8zM1741.7 790.5L1755.7 815.5H1727.7zM1745.5 788.9L1759.5 813.9H1731.5zM1749.4 786.2L1763.4 811.2H1735.4zM1753.2 782.6L1767.2 807.6H1739.2zM1757 779.7L1771 804.7H1743zM1760.9 780.8L1774.9 805.8H1746.9zM1764.7 783.1L1778.7 808.1H1750.7zM1768.6 784.5L1782.6 809.5H1754.6zM1772.4 784.7L1786.4 809.7H1758.4zM1776.2 780.3L1790.2 805.3H1762.2zM1780.1 771.8L1794.1 796.8H1766.1zM1783.9 755.6L1797.9 780.6H1769.9zM1787.8 756.9L1801.8 781.9H1773.8zM1791.6 764.8L1805.6 789.8H1777.6zM1795.4 770.4L1809.4 795.4H1781.4zM1799.3 770.7L1813.3 795.7H1785.3zM1803.1 765.4L1817.1 790.4H1789.1zM1807 762.1L1821 787.1H1793zM1810.8 762.5L1824.8 787.5H1796.8zM1814.6 767.3L1828.6 792.3H1800.6zM1818.5 772.8L1832.5 797.8H1804.5zM1822.3 773.5L1836.3 798.5H1808.3zM1826.2 769.5L1840.2 794.5H1812.2zM1830 765.9L1844 790.9H1816z" fill="#008000"/>
<path d="M294,1319.5 297.8,1319.5 301.7,1319.5 305.5,1319.5 309.4,1319.5 313.2,1319.5 317,1319.5 320.9,1319.5 324.7,1319.5 328.6,1319.5 332.4,1319.5 336.2,1319.5 340.1,1319.5 343.9,1319.5 347.8,1319.5 351.6,1319.5 355.4,1319.5 359.3,1319.5 363.1,1319.5 367,1319.5 370.8,1319.5 374.6,1319.5 378.5,1319.5 382.3,1319.5 386.2,1319.5 390,1319.5 393.8,1319.5 397.7,1319.5 401.5,1319.5 405.4,1319.5 409.2,1319.5 413,1319.5 416.9,1319.5 420.7,1319.5 424.6,1319.5 428.4,1319.5 432.2,1319.5 436.1,1319.5 439.9,1319.5 443.8,1319.5 447.6,1319.5 451.4,1319.5 455.3,1319.5 459.1,1319.5 463,1319.5 466.8,1319.5 470.6,1319.5 474.5,1319.5 478.3,1319.5 482.2,1319.5 486,1319.5 489.8,1319.5 493.7,1319.5 497.5,1319.5 501.4,1319.5 505.2,1319.5 509,1319.5 512.9,1319.5 516.7,1319.5 520.6,1319.5 524.4,1319.5 528.2,1294.6 532.1,1269.6 535.9,1250.9 539.8,1213.5 543.6,1169.9 547.4,1138.7 551.3,1113.7 555.1,1082.6 559,1051.4 562.8,1026.5 566.6,1014 570.5,989 574.3,932.9 578.2,876.8 582,826.9 585.8,789.5 589.7,770.8 593.5,745.9 597.4,769.3 601.2,760.5 605,734.3 608.9,731.3 612.7,758.2 616.6,775.6 620.4,799.5 624.2,793.2 628.1,746.4 631.9,733.2 635.8,694.3 639.6,676.7 643.4,717.5 647.3,718 651.1,760.1 655,756.6 658.8,696.3 662.6,669.4 666.5,652.2 670.3,691.8 674.2,722.4 678,753.7 681.8,765.8 685.7,735.6 689.5,707.8 693.4,682.9 697.2,680.8 701,700.1 704.9,715.6 708.7,744.8 712.6,728.9 716.4,707.3 720.2,688.1 724.1,670.5 727.9,677.6 731.8,692.7 735.6,713.4 739.4,727.9 743.3,734.4 747.1,714.5 751,690.1 754.8,666.5 758.6,662 762.5,681.4 766.3,704.9 770.2,730.8 774,717 777.8,707.6 781.7,681.3 785.5,655.5 789.4,671.3 793.2,683.1 797,697.7 800.9,723 804.7,736.5 808.6,711.6 812.4,691.2 816.2,668.6 820.1,662.2 823.9,671.4 827.8,683.2 831.6,700 835.4,704.1 839.3,692.9 843.1,672.6 847,665.1 850.8,663.3 854.6,671.1 858.5,686.6 862.3,695.6 866.2,691.4 870,678.6 873.8,668.4 877.7,660 881.5,656.6 885.4,662.3 889.2,678.9 893,691.2 896.9,699.6 900.7,682 904.6,668.4 908.4,648 912.2,654 916.1,666.6 919.9,671.6 923.8,691.1 927.6,690.6 931.4,676.2 935.3,661 939.1,643.1 943,635.4 946.8,650.9 950.6,664.1 954.5,663.3 958.3,676.7 962.2,652.1 966,639.6 969.8,614.4 973.7,603 977.5,605.1 981.4,619.8 985.2,624.4 989,622.8 992.9,616.5 996.7,589.6 1000.6,574.6 1004.4,560.9 1008.2,564.7 1012.1,574.4 1015.9,579.4 1019.8,571.4 1023.6,554.8 1027.4,539.8 1031.3,523.6 1035.1,516.1 1039,515.8 1042.8,528.8 1046.6,531.1 1050.5,530.7 1054.3,513.1 1058.2,495.6 1062,480.5 1065.8,464.2 1069.7,472.4 1073.5,482.6 1077.4,487.5 1081.2,491 1085,481.5 1088.9,465.6 1092.7,460.7 1096.6,455.2 1100.4,474 1104.2,485.6 1108.1,501.9 1111.9,522.4 1115.8,523.7 1119.6,523 1123.4,520.5 1127.3,518 1131.1,522.7 1135,542.8 1138.8,560.9 1142.6,568.6 1146.5,589.1 1150.3,580.6 1154.2,578.5 1158,579.8 1161.8,577.4 1165.7,591.3 1169.5,602.9 1173.4,618.3 1177.2,629.4 1181,630.4 1184.9,629.9 1188.7,629.8 1192.6,626.1 1196.4,633.9 1200.2,643.5 1204.1,652.5 1207.9,660.7 1211.8,664.3 1215.6,665.1 1219.4,666 1223.3,661.5 1227.1,672.7 1231,683.4 1234.8,696 1238.6,694.4 1242.5,691.4 1246.3,689.4 1250.2,688.8 1254,691 1257.8,696.9 1261.7,707.3 1265.5,710.6 1269.4,718.9 1273.2,715.7 1277,713.9 1280.9,706.3 1284.7,704.3 1288.6,714.9 1292.4,720.8 1296.2,732.6 1300.1,738.7 1303.9,737.9 1307.8,738.3 1311.6,739.4 1315.4,739.7 1319.3,741 1323.1,746.3 1327,751.2 1330.8,755.2 1334.6,755.4 1338.5,749 1342.3,743.2 1346.2,739.9 1350,745.1 1353.8,752.5 1357.7,760.7 1361.5,769.1 1365.4,769.2 1369.2,766.4 1373,758.7 1376.9,752.7 1380.7,760.9 1384.6,765.5 1388.4,776.8 1392.2,782.1 1396.1,787.7 1399.9,780.9 1403.8,778.8 1407.6,772.9 1411.4,766.3 1415.3,773.8 1419.1,782.5 1423,799.8 1426.8,808.4 1430.6,796.7 1434.5,789.5 1438.3,776.7 1442.2,770.9 1446,777.7 1449.8,785.7 1453.7,788 1457.5,789.4 1461.4,786.5 1465.2,781 1469,777.9 1472.9,772.8 1476.7,778.3 1480.6,784.6 1484.4,787 1488.2,792.9 1492.1,786.2 1495.9,780.1 1499.8,779 1503.6,774 1507.4,775.4 1511.3,782.9 1515.1,787.8 1519,796.5 1522.8,793 1526.6,785.6 1530.5,779.5 1534.3,774.4 1538.2,778.6 1542,785.7 1545.8,789.9 1549.7,796.7 1553.5,792.1 1557.4,788.4 1561.2,781 1565,780.5 1568.9,791.5 1572.7,798.7 1576.6,807.9 1580.4,811.5 1584.2,808.8 1588.1,805.6 1591.9,798.9 1595.8,802.8 1599.6,812 1603.4,818.8 1607.3,821.1 1611.1,817.4 1615,815.2 1618.8,808.8 1622.6,804.9 1626.5,810.4 1630.3,815.7 1634.2,819.7 1638,825.1 1641.8,823.2 1645.7,824.1 1649.5,820.1 1653.4,818.3 1657.2,821.4 1661,824.5 1664.9,831 1668.7,837.6 1672.6,838.3 1676.4,834.9 1680.2,828.5 1684.1,824.6 1687.9,822.1 1691.8,832.3 1695.6,834.3 1699.4,840.2 1703.3,841.9 1707.1,839.1 1711,832.3 1714.8,824.7 1718.6,829.9 1722.5,834.8 1726.3,841.7 1730.2,849.3 1734,854.3 1737.8,849.4 1741.7,840 1745.5,828.5 1749.4,825.3 1753.2,832.1 1757,841.5 1760.9,843.6 1764.7,844.2 1768.6,837.7 1772.4,828.9 1776.2,818.1 1780.1,817.1 1783.9,821.5 1787.8,827.3 1791.6,832 1795.4,825 1799.3,820 1803.1,815.6 1807,811.5 1810.8,814.3 1814.6,817.2 1818.5,818.4 1822.3,816.8 1826.2,814.4 1830,811.9" fill="none" stroke="#00f" stroke-width="4.5" stroke-linejoin="round"/>
<path d="M294 1336.2L308 1311.2H280zM297.8 1336.2L311.8 1311.2H283.8zM301.7 1336.2L315.7 1311.2H287.7zM305.5 1336.2L319.5 1311.2H291.5zM309.4 1336.2L323.4 1311.2H295.4zM313.2 1336.2L327.2 1311.2H299.2zM317 1336.2L331 1311.2H303zM320.9 1336.2L334.9 1311.2H306.9zM324.7 1336.2L338.7 1311.2H310.7zM328.6 1336.2L342.6 1311.2H314.6zM332.4 1336.2L346.4 1311.2H318.4zM336.2 1336.2L350.2 1311.2H322.2zM340.1 1336.2L354.1 1311.2H326.1zM343.9 1336.2L357.9 1311.2H329.9zM347.8 1336.2L361.8 1311.2H333.8zM351.6 1336.2L365.6 1311.2H337.6zM355.4 1336.2L369.4 1311.2H341.4zM359.3 1336.2L373.3 1311.2H345.3zM363.1 1336.2L377.1 1311.2H349.1zM367 1336.2L381 1311.2H353zM370.8 1336.2L384.8 1311.2H356.8zM374.6 1336.2L388.6 1311.2H360.6zM378.5 1336.2L392.5 1311.2H364.5zM382.3 1336.2L396.3 1311.2H368.3zM386.2 1336.2L400.2 1311.2H372.2zM390 1336.2L404 1311.2H376zM393.8 1336.2L407.8 1311.2H379.8zM397.7 1336.2L411.7 1311.2H383.7zM401.5 1336.2L415.5 1311.2H387.5zM405.4 1336.2L419.4 1311.2H391.4zM409.2 1336.2L423.2 1311.2H395.2zM413 1336.2L427 1311.2H399zM416.9 1336.2L430.9 1311.2H402.9zM420.7 1336.2L434.7 1311.2H406.7zM424.6 1336.2L438.6 1311.2H410.6zM428.4 1336.2L442.4 1311.2H414.4zM432.2 1336.2L446.2 1311.2H418.2zM436.1 1336.2L450.1 1311.2H422.1zM439.9 1336.2L453.9 1311.2H425.9zM443.8 1336.2L457.8 1311.2H429.8zM447.6 1336.2L461.6 1311.2H433.6zM451.4 1336.2L465.4 1311.2H437.4zM455.3 1336.2L469.3 1311.2H441.3zM459.1 1336.2L473.1 1311.2H445.1zM463 1336.2L477 1311.2H449zM466.8 1336.2L480.8 1311.2H452.8zM470.6 1336.2L484.6 1311.2H456.6zM474.5 1336.2L488.5 1311.2H460.5zM478.3 1336.2L492.3 1311.2H464.3zM482.2 1336.2L496.2 1311.2H468.2zM486 1336.2L500 1311.2H472zM489.8 1336.2L503.8 1311.2H475.8zM493.7 1336.2L507.7 1311.2H479.7zM497.5 1336.2L511.5 1311.2H483.5zM501.4 1336.2L515.4 1311.2H487.4zM505.2 1336.2L519.2 1311.2H491.2zM509 1336.2L523 1311.2H495zM512.9 1336.2L526.9 1311.2H498.9zM516.7 1336.2L530.7 1311.2H502.7zM520.6 1336.2L534.6 1311.2H506.6zM524.4 1336.2L538.4 1311.2H510.4zM528.2 1311.2L542.2 1286.2H514.2zM532.1 1286.3L546.1 1261.3H518.1zM535.9 1267.6L549.9 1242.6H521.9zM539.8 1230.2L553.8 1205.2H525.8zM543.6 1186.5L557.6 1161.5H529.6zM547.4 1155.4L561.4 1130.4H533.4zM551.3 1130.4L565.3 1105.4H537.3zM555.1 1099.2L569.1 1074.2H541.1zM559 1068.1L573 1043.1H545zM562.8 1043.1L576.8 1018.1H548.8zM566.6 1030.7L580.6 1005.7H552.6zM570.5 1005.7L584.5 980.7H556.5zM574.3 949.6L588.3 924.6H560.3zM578.2 893.5L592.2 868.5H564.2zM582 843.6L596 818.6H568zM585.8 806.2L599.8 781.2H571.8zM589.7 787.5L603.7 762.5H575.7zM593.5 762.5L607.5 737.5H579.5zM597.4 786L611.4 761H583.4zM601.2 777.1L615.2 752.1H587.2zM605 751L619 726H591zM608.9 747.9L622.9 722.9H594.9zM612.7 774.9L626.7 749.9H598.7zM616.6 792.3L630.6 767.3H602.6zM620.4 816.1L634.4 791.1H606.4zM624.2 809.9L638.2 784.9H610.2zM628.1 763.1L642.1 738.1H614.1zM631.9 749.9L645.9 724.9H617.9zM635.8 711L649.8 686H621.8zM639.6 693.4L653.6 668.4H625.6zM643.4 734.2L657.4 709.2H629.4zM647.3 734.7L661.3 709.7H633.3zM651.1 776.8L665.1 751.8H637.1zM655 773.3L669 748.3H641zM658.8 713L672.8 688H644.8zM662.6 686.1L676.6 661.1H648.6zM666.5 668.8L680.5 643.8H652.5zM670.3 708.5L684.3 683.5H656.3zM674.2 739L688.2 714H660.2zM678 770.4L692 745.4H664zM681.8 782.4L695.8 757.4H667.8zM685.7 752.2L699.7 727.2H671.7zM689.5 724.5L703.5 699.5H675.5zM693.4 699.6L707.4 674.6H679.4zM697.2 697.4L711.2 672.4H683.2zM701 716.8L715 691.8H687zM704.9 732.3L718.9 707.3H690.9zM708.7 761.5L722.7 736.5H694.7zM712.6 745.6L726.6 720.6H698.6zM716.4 723.9L730.4 698.9H702.4zM720.2 704.8L734.2 679.8H706.2zM724.1 687.2L738.1 662.2H710.1zM727.9 694.3L741.9 669.3H713.9zM731.8 709.3L745.8 684.3H717.8zM735.6 730L749.6 705H721.6zM739.4 744.6L753.4 719.6H725.4zM743.3 751.1L757.3 726.1H729.3zM747.1 731.2L761.1 706.2H733.1zM751 706.7L765 681.7H737zM754.8 683.1L768.8 658.1H740.8zM758.6 678.6L772.6 653.6H744.6zM762.5 698.1L776.5 673.1H748.5zM766.3 721.6L780.3 696.6H752.3zM770.2 747.4L784.2 722.4H756.2zM774 733.7L788 708.7H760zM777.8 724.3L791.8 699.3H763.8zM781.7 697.9L795.7 672.9H767.7zM785.5 672.1L799.5 647.1H771.5zM789.4 688L803.4 663H775.4zM793.2 699.7L807.2 674.7H779.2zM797 714.4L811 689.4H783zM800.9 739.7L814.9 714.7H786.9zM804.7 753.2L818.7 728.2H790.7zM808.6 728.3L822.6 703.3H794.6zM812.4 707.9L826.4 682.9H798.4zM816.2 685.3L830.2 660.3H802.2zM820.1 678.9L834.1 653.9H806.1zM823.9 688.1L837.9 663.1H809.9zM827.8 699.9L841.8 674.9H813.8zM831.6 716.6L845.6 691.6H817.6zM835.4 720.7L849.4 695.7H821.4zM839.3 709.5L853.3 684.5H825.3zM843.1 689.2L857.1 664.2H829.1zM847 681.8L861 656.8H833zM850.8 679.9L864.8 654.9H836.8zM854.6 687.7L868.6 662.7H840.6zM858.5 703.3L872.5 678.3H844.5zM862.3 712.2L876.3 687.2H848.3zM866.2 708.1L880.2 683.1H852.2zM870 695.3L884 670.3H856zM873.8 685L887.8 660H859.8zM877.7 676.6L891.7 651.6H863.7zM881.5 673.2L895.5 648.2H867.5zM885.4 679L899.4 654H871.4zM889.2 695.6L903.2 670.6H875.2zM893 707.9L907 682.9H879zM896.9 716.2L910.9 691.2H882.9zM900.7 698.7L914.7 673.7H886.7zM904.6 685.1L918.6 660.1H890.6zM908.4 664.7L922.4 639.7H894.4zM912.2 670.7L926.2 645.7H898.2zM916.1 683.3L930.1 658.3H902.1zM919.9 688.3L933.9 663.3H905.9zM923.8 707.8L937.8 682.8H909.8zM927.6 707.2L941.6 682.2H913.6zM931.4 692.9L945.4 667.9H917.4zM935.3 677.7L949.3 652.7H921.3zM939.1 659.8L953.1 634.8H925.1zM943 652.1L957 627.1H929zM946.8 667.5L960.8 642.5H932.8zM950.6 680.7L964.6 655.7H936.6zM954.5 680L968.5 655H940.5zM958.3 693.4L972.3 668.4H944.3zM962.2 668.8L976.2 643.8H948.2zM966 656.3L980 631.3H952zM969.8 631.1L983.8 606.1H955.8zM973.7 619.7L987.7 594.7H959.7zM977.5 621.8L991.5 596.8H963.5zM981.4 636.5L995.4 611.5H967.4zM985.2 641L999.2 616H971.2zM989 639.5L1003 614.5H975zM992.9 633.1L1006.9 608.1H978.9zM996.7 606.3L1010.7 581.3H982.7zM1000.6 591.3L1014.6 566.3H986.6zM1004.4 577.5L1018.4 552.5H990.4zM1008.2 581.4L1022.2 556.4H994.2zM1012.1 591L1026.1 566H998.1zM1015.9 596L1029.9 571H1001.9zM1019.8 588L1033.8 563H1005.8zM1023.6 571.5L1037.6 546.5H1009.6zM1027.4 556.5L1041.4 531.5H1013.4zM1031.3 540.3L1045.3 515.3H1017.3zM1035.1 532.8L1049.1 507.8H1021.1zM1039 532.4L1053 507.4H1025zM1042.8 545.4L1056.8 520.4H1028.8zM1046.6 547.8L1060.6 522.8H1032.6zM1050.5 547.4L1064.5 522.4H1036.5zM1054.3 529.8L1068.3 504.8H1040.3zM1058.2 512.3L1072.2 487.3H1044.2zM1062 497.1L1076 472.1H1048zM1065.8 480.8L1079.8 455.8H1051.8zM1069.7 489.1L1083.7 464.1H1055.7zM1073.5 499.3L1087.5 474.3H1059.5zM1077.4 504.2L1091.4 479.2H1063.4zM1081.2 507.7L1095.2 482.7H1067.2zM1085 498.2L1099 473.2H1071zM1088.9 482.3L1102.9 457.3H1074.9zM1092.7 477.4L1106.7 452.4H1078.7zM1096.6 471.9L1110.6 446.9H1082.6zM1100.4 490.6L1114.4 465.6H1086.4zM1104.2 502.2L1118.2 477.2H1090.2zM1108.1 518.5L1122.1 493.5H1094.1zM1111.9 539L1125.9 514H1097.9zM1115.8 540.4L1129.8 515.4H1101.8zM1119.6 539.6L1133.6 514.6H1105.6zM1123.4 537.1L1137.4 512.1H1109.4zM1127.3 534.6L1141.3 509.6H1113.3zM1131.1 539.4L1145.1 514.4H1117.1zM1135 559.5L1149 534.5H1121zM1138.8 577.6L1152.8 552.6H1124.8zM1142.6 585.3L1156.6 560.3H1128.6zM1146.5 605.7L1160.5 580.7H1132.5zM1150.3 597.3L1164.3 572.3H1136.3zM1154.2 595.2L1168.2 570.2H1140.2zM1158 596.4L1172 571.4H1144zM1161.8 594.1L1175.8 569.1H1147.8zM1165.7 607.9L1179.7 582.9H1151.7zM1169.5 619.6L1183.5 594.6H1155.5zM1173.4 634.9L1187.4 609.9H1159.4zM1177.2 646.1L1191.2 621.1H1163.2zM1181 647L1195 622H1167zM1184.9 646.6L1198.9 621.6H1170.9zM1188.7 646.5L1202.7 621.5H1174.7zM1192.6 642.8L1206.6 617.8H1178.6zM1196.4 650.5L1210.4 625.5H1182.4zM1200.2 660.2L1214.2 635.2H1186.2zM1204.1 669.1L1218.1 644.1H1190.1zM1207.9 677.3L1221.9 652.3H1193.9zM1211.8 680.9L1225.8 655.9H1197.8zM1215.6 681.8L1229.6 656.8H1201.6zM1219.4 682.7L1233.4 657.7H1205.4zM1223.3 678.2L1237.3 653.2H1209.3zM1227.1 689.4L1241.1 664.4H1213.1zM1231 700L1245 675H1217zM1234.8 712.7L1248.8 687.7H1220.8zM1238.6 711.1L1252.6 686.1H1224.6zM1242.5 708.1L1256.5 683.1H1228.5zM1246.3 706L1260.3 681H1232.3zM1250.2 705.4L1264.2 680.4H1236.2zM1254 707.6L1268 682.6H1240zM1257.8 713.5L1271.8 688.5H1243.8zM1261.7 723.9L1275.7 698.9H1247.7zM1265.5 727.2L1279.5 702.2H1251.5zM1269.4 735.6L1283.4 710.6H1255.4zM1273.2 732.4L1287.2 707.4H1259.2zM1277 730.6L1291 705.6H1263zM1280.9 722.9L1294.9 697.9H1266.9zM1284.7 721L1298.7 696H1270.7zM1288.6 731.5L1302.6 706.5H1274.6zM1292.4 737.5L1306.4 712.5H1278.4zM1296.2 749.2L1310.2 724.2H1282.2zM1300.1 755.3L1314.1 730.3H1286.1zM1303.9 754.5L1317.9 729.5H1289.9zM1307.8 754.9L1321.8 729.9H1293.8zM1311.6 756.1L1325.6 731.1H1297.6zM1315.4 756.4L1329.4 731.4H1301.4zM1319.3 757.7L1333.3 732.7H1305.3zM1323.1 762.9L1337.1 737.9H1309.1zM1327 767.9L1341 742.9H1313zM1330.8 771.8L1344.8 746.8H1316.8zM1334.6 772.1L1348.6 747.1H1320.6zM1338.5 765.7L1352.5 740.7H1324.5zM1342.3 759.9L1356.3 734.9H1328.3zM1346.2 756.5L1360.2 731.5H1332.2zM1350 761.8L1364 736.8H1336zM1353.8 769.1L1367.8 744.1H1339.8zM1357.7 777.3L1371.7 752.3H1343.7zM1361.5 785.8L1375.5 760.8H1347.5zM1365.4 785.9L1379.4 760.9H1351.4zM1369.2 783.1L1383.2 758.1H1355.2zM1373 775.4L1387 750.4H1359zM1376.9 769.4L1390.9 744.4H1362.9zM1380.7 777.6L1394.7 752.6H1366.7zM1384.6 782.2L1398.6 757.2H1370.6zM1388.4 793.5L1402.4 768.5H1374.4zM1392.2 798.8L1406.2 773.8H1378.2zM1396.1 804.4L1410.1 779.4H1382.1zM1399.9 797.5L1413.9 772.5H1385.9zM1403.8 795.4L1417.8 770.4H1389.8zM1407.6 789.6L1421.6 764.6H1393.6zM1411.4 782.9L1425.4 757.9H1397.4zM1415.3 790.5L1429.3 765.5H1401.3zM1419.1 799.1L1433.1 774.1H1405.1zM1423 816.5L1437 791.5H1409zM1426.8 825.1L1440.8 800.1H1412.8zM1430.6 813.3L1444.6 788.3H1416.6zM1434.5 806.2L1448.5 781.2H1420.5zM1438.3 793.4L1452.3 768.4H1424.3zM1442.2 787.5L1456.2 762.5H1428.2zM1446 794.4L1460 769.4H1432zM1449.8 802.3L1463.8 777.3H1435.8zM1453.7 804.7L1467.7 779.7H1439.7zM1457.5 806.1L1471.5 781.1H1443.5zM1461.4 803.2L1475.4 778.2H1447.4zM1465.2 797.7L1479.2 772.7H1451.2zM1469 794.5L1483 769.5H1455zM1472.9 789.4L1486.9 764.4H1458.9zM1476.7 794.9L1490.7 769.9H1462.7zM1480.6 801.3L1494.6 776.3H1466.6zM1484.4 803.6L1498.4 778.6H1470.4zM1488.2 809.6L1502.2 784.6H1474.2zM1492.1 802.9L1506.1 777.9H1478.1zM1495.9 796.7L1509.9 771.7H1481.9zM1499.8 795.6L1513.8 770.6H1485.8zM1503.6 790.7L1517.6 765.7H1489.6zM1507.4 792.1L1521.4 767.1H1493.4zM1511.3 799.5L1525.3 774.5H1497.3zM1515.1 804.5L1529.1 779.5H1501.1zM1519 813.1L1533 788.1H1505zM1522.8 809.7L1536.8 784.7H1508.8zM1526.6 802.3L1540.6 777.3H1512.6zM1530.5 796.2L1544.5 771.2H1516.5zM1534.3 791L1548.3 766H1520.3zM1538.2 795.3L1552.2 770.3H1524.2zM1542 802.3L1556 777.3H1528zM1545.8 806.5L1559.8 781.5H1531.8zM1549.7 813.4L1563.7 788.4H1535.7zM1553.5 808.8L1567.5 783.8H1539.5zM1557.4 805.1L1571.4 780.1H1543.4zM1561.2 797.7L1575.2 772.7H1547.2zM1565 797.2L1579 772.2H1551zM1568.9 808.2L1582.9 783.2H1554.9zM1572.7 815.3L1586.7 790.3H1558.7zM1576.6 824.5L1590.6 799.5H1562.6zM1580.4 828.1L1594.4 803.1H1566.4zM1584.2 825.5L1598.2 800.5H1570.2zM1588.1 822.3L1602.1 797.3H1574.1zM1591.9 815.6L1605.9 790.6H1577.9zM1595.8 819.4L1609.8 794.4H1581.8zM1599.6 828.6L1613.6 803.6H1585.6zM1603.4 835.5L1617.4 810.5H1589.4zM1607.3 837.8L1621.3 812.8H1593.3zM1611.1 834L1625.1 809H1597.1zM1615 831.9L1629 806.9H1601zM1618.8 825.5L1632.8 800.5H1604.8zM1622.6 821.6L1636.6 796.6H1608.6zM1626.5 827.1L1640.5 802.1H1612.5zM1630.3 832.4L1644.3 807.4H1616.3zM1634.2 836.4L1648.2 811.4H1620.2zM1638 841.8L1652 816.8H1624zM1641.8 839.8L1655.8 814.8H1627.8zM1645.7 840.8L1659.7 815.8H1631.7zM1649.5 836.7L1663.5 811.7H1635.5zM1653.4 835L1667.4 810H1639.4zM1657.2 838L1671.2 813H1643.2zM1661 841.1L1675 816.1H1647zM1664.9 847.7L1678.9 822.7H1650.9zM1668.7 854.2L1682.7 829.2H1654.7zM1672.6 854.9L1686.6 829.9H1658.6zM1676.4 851.5L1690.4 826.5H1662.4zM1680.2 845.1L1694.2 820.1H1666.2zM1684.1 841.3L1698.1 816.3H1670.1zM1687.9 838.8L1701.9 813.8H1673.9zM1691.8 849L1705.8 824H1677.8zM1695.6 851L1709.6 826H1681.6zM1699.4 856.9L1713.4 831.9H1685.4zM1703.3 858.6L1717.3 833.6H1689.3zM1707.1 855.8L1721.1 830.8H1693.1zM1711 848.9L1725 823.9H1697zM1714.8 841.3L1728.8 816.3H1700.8zM1718.6 846.6L1732.6 821.6H1704.6zM1722.5 851.5L1736.5 826.5H1708.5zM1726.3 858.4L1740.3 833.4H1712.3zM1730.2 866L1744.2 841H1716.2zM1734 871L1748 846H1720zM1737.8 866.1L1751.8 841.1H1723.8zM1741.7 856.7L1755.7 831.7H1727.7zM1745.5 845.2L1759.5 820.2H1731.5zM1749.4 841.9L1763.4 816.9H1735.4zM1753.2 848.8L1767.2 823.8H1739.2zM1757 858.1L1771 833.1H1743zM1760.9 860.3L1774.9 835.3H1746.9zM1764.7 860.9L1778.7 835.9H1750.7zM1768.6 854.3L1782.6 829.3H1754.6zM1772.4 845.6L1786.4 820.6H1758.4zM1776.2 834.8L1790.2 809.8H1762.2zM1780.1 833.8L1794.1 808.8H1766.1zM1783.9 838.2L1797.9 813.2H1769.9zM1787.8 843.9L1801.8 818.9H1773.8zM1791.6 848.7L1805.6 823.7H1777.6zM1795.4 841.7L1809.4 816.7H1781.4zM1799.3 836.7L1813.3 811.7H1785.3zM1803.1 832.3L1817.1 807.3H1789.1zM1807 828.2L1821 803.2H1793zM1810.8 831L1824.8 806H1796.8zM1814.6 833.9L1828.6 808.9H1800.6zM1818.5 835L1832.5 810H1804.5zM1822.3 833.5L1836.3 808.5H1808.3zM1826.2 831.1L1840.2 806.1H1812.2zM1830 828.6L1844 803.6H1816z" fill="#00f"/>
</g>
<text x="261" y="1339" text-anchor="end" font-family="&quot;Liberation Sans&quot;, Arial, sans-serif" stroke="#000" stroke-width="1.4" font-size="91" letter-spacing="-1.75">0.0</text>
<text x="261" y="1027.2" text-anchor="end" font-family="&quot;Liberation Sans&quot;, Arial, sans-serif" stroke="#000" stroke-width="1.4" font-size="91" letter-spacing="-1.75">0.5</text>
<text x="261" y="715.5" text-anchor="end" font-family="&quot;Liberation Sans&quot;, Arial, sans-serif" stroke="#000" stroke-width="1.4" font-size="91" letter-spacing="-1.75">1.0</text>
<text x="261" y="403.8" text-anchor="end" font-family="&quot;Liberation Sans&quot;, Arial, sans-serif" stroke="#000" stroke-width="1.4" font-size="91" letter-spacing="-1.75">1.5</text>
<text x="261" y="92" text-anchor="end" font-family="&quot;Liberation Sans&quot;, Arial, sans-serif" stroke="#000" stroke-width="1.4" font-size="91" letter-spacing="-1.75">2.0</text>
<text x="292.5" y="1420.5" text-anchor="middle" font-family="&quot;Liberation Sans&quot;, Arial, sans-serif" stroke="#000" stroke-width="1.4" font-size="91" letter-spacing="-1.75">0.0</text>
<text x="676.5" y="1420.5" text-anchor="middle" font-family="&quot;Liberation Sans&quot;, Arial, sans-serif" stroke="#000" stroke-width="1.4" font-size="91" letter-spacing="-1.75">5.0</text>
<text x="1060.5" y="1420.5" text-anchor="middle" font-family="&quot;Liberation Sans&quot;, Arial, sans-serif" stroke="#000" stroke-width="1.4" font-size="91" letter-spacing="-1.75">10.0</text>
<text x="1444.5" y="1420.5" text-anchor="middle" font-family="&quot;Liberation Sans&quot;, Arial, sans-serif" stroke="#000" stroke-width="1.4" font-size="91" letter-spacing="-1.75">15.0</text>
<text x="1828.5" y="1420.5" text-anchor="middle" font-family="&quot;Liberation Sans&quot;, Arial, sans-serif" stroke="#000" stroke-width="1.4" font-size="91" letter-spacing="-1.75">20.0</text>
<text x="1063" y="1542" text-anchor="middle" font-family="&quot;Liberation Sans&quot;, Arial, sans-serif" stroke="#000" stroke-width="1.4" font-size="87" letter-spacing="0">r (Å)</text>
<text transform="translate(88.5 728) rotate(-90)" text-anchor="middle" font-family="&quot;Liberation Sans&quot;, Arial, sans-serif" stroke="#000" stroke-width="1.4" font-size="89" letter-spacing="0">g (r)</text>
<text transform="translate(1797 165) scale(0.98 1)" text-anchor="end" font-family="&quot;Liberation Sans&quot;, Arial, sans-serif" stroke="#000" stroke-width="1.4" font-size="89.3">Moisture concentration (wt%)</text>
<path d="M1461 242H1660" stroke="#000" stroke-width="5"/>
<rect x="1550" y="232" width="21" height="20" fill="#000"/>
<text x="1681.5" y="271" font-family="&quot;Liberation Sans&quot;, Arial, sans-serif" stroke="#000" stroke-width="1.4" font-size="91" letter-spacing="-1.75">1.0</text>
<path d="M1461 348.6H1660" stroke="#f00" stroke-width="5"/>
<circle cx="1560.5" cy="348.6" r="10.5" fill="#f00"/>
<text x="1681.5" y="377.6" font-family="&quot;Liberation Sans&quot;, Arial, sans-serif" stroke="#000" stroke-width="1.4" font-size="91" letter-spacing="-1.75">2.0</text>
<path d="M1461 455.2H1660" stroke="#008000" stroke-width="5"/>
<path d="M1560.5 440.2L1574.5 464.2H1546.5z" fill="#008000"/>
<text x="1681.5" y="484.2" font-family="&quot;Liberation Sans&quot;, Arial, sans-serif" stroke="#000" stroke-width="1.4" font-size="91" letter-spacing="-1.75">3.0</text>
<path d="M1461 561.8H1660" stroke="#00f" stroke-width="5"/>
<path d="M1560.5 578.3L1574.5 553.8H1546.5z" fill="#00f"/>
<text x="1681.5" y="590.8" font-family="&quot;Liberation Sans&quot;, Arial, sans-serif" stroke="#000" stroke-width="1.4" font-size="91" letter-spacing="-1.75">4.0</text>
</svg></body></html>
